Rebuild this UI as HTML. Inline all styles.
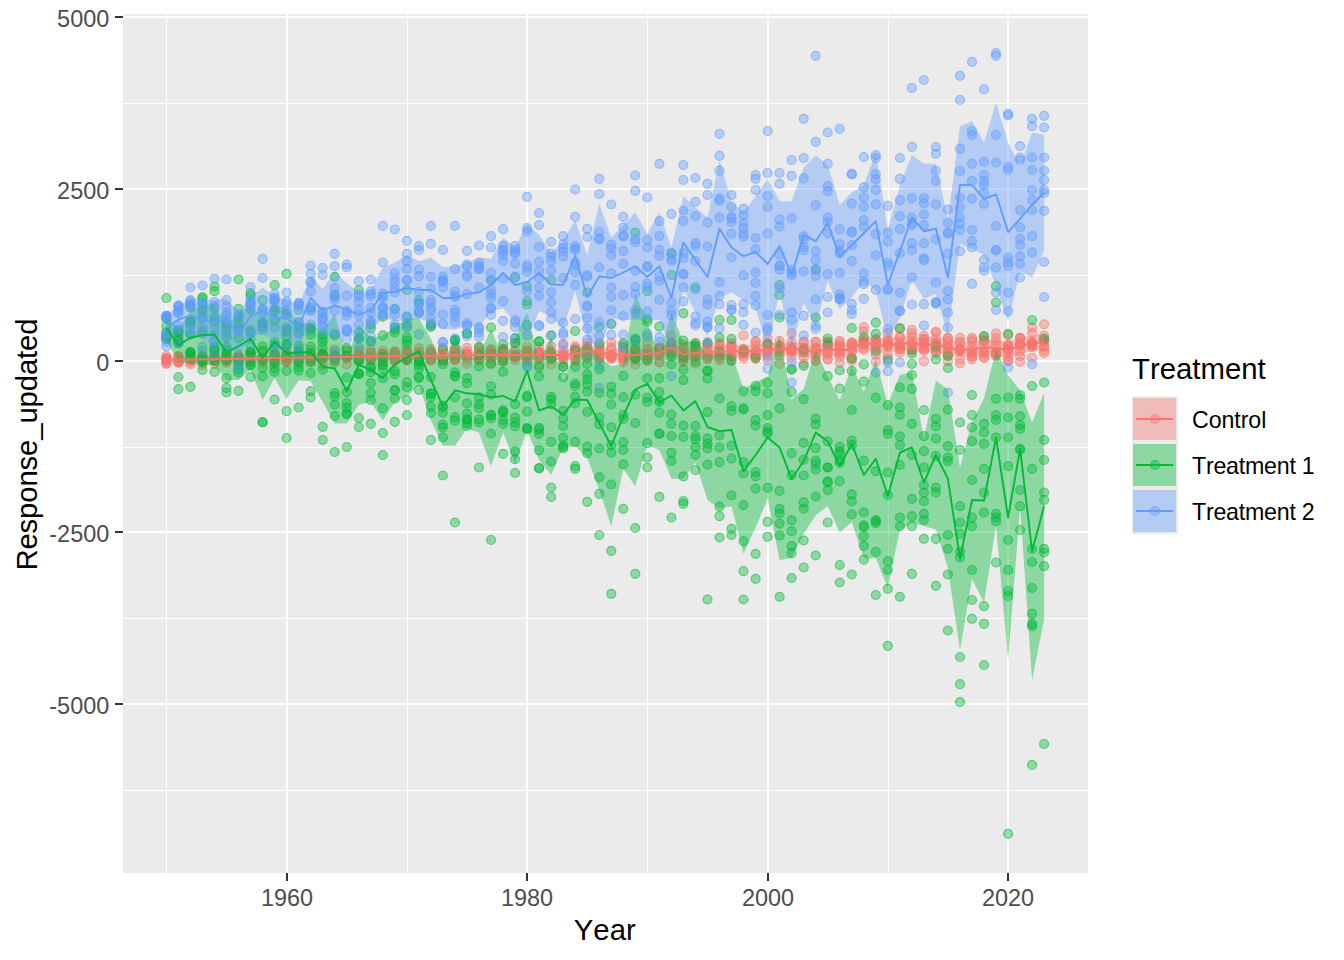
<!DOCTYPE html>
<html><head><meta charset="utf-8"><title>Response by Year and Treatment</title>
<style>html,body{margin:0;padding:0;background:#fff}text{font-kerning:none}body{width:1344px;height:960px;overflow:hidden}
.p circle{fill-opacity:0.40;stroke-opacity:0.55;stroke-width:1.2}</style></head>
<body><svg width="1344" height="960" viewBox="0 0 1344 960" style="display:block">
<rect width="1344" height="960" fill="#fff"/>
<rect x="123" y="14" width="965" height="859" fill="#EBEBEB"/>
<g stroke="#fff" stroke-width="1" shape-rendering="crispEdges">
<line x1="123" x2="1088" y1="103.5" y2="103.5"/>
<line x1="123" x2="1088" y1="275.5" y2="275.5"/>
<line x1="123" x2="1088" y1="447.5" y2="447.5"/>
<line x1="123" x2="1088" y1="618.5" y2="618.5"/>
<line x1="123" x2="1088" y1="790.5" y2="790.5"/>
<line x1="166.5" x2="166.5" y1="14" y2="873"/>
<line x1="407.5" x2="407.5" y1="14" y2="873"/>
<line x1="647.5" x2="647.5" y1="14" y2="873"/>
<line x1="888.5" x2="888.5" y1="14" y2="873"/>
</g>
<g stroke="#fff" stroke-width="2" shape-rendering="crispEdges">
<line x1="123" x2="1088" y1="17" y2="17"/>
<line x1="123" x2="1088" y1="189" y2="189"/>
<line x1="123" x2="1088" y1="361" y2="361"/>
<line x1="123" x2="1088" y1="532" y2="532"/>
<line x1="123" x2="1088" y1="704" y2="704"/>
<line x1="287.0" x2="287.0" y1="14" y2="873"/>
<line x1="527.0" x2="527.0" y1="14" y2="873"/>
<line x1="768.0" x2="768.0" y1="14" y2="873"/>
<line x1="1008.0" x2="1008.0" y1="14" y2="873"/>
</g>
<clipPath id="c"><rect x="123" y="14" width="965" height="859"/></clipPath>
<g clip-path="url(#c)">
<g class="p" fill="#F8766D" stroke="#F8766D"><circle cx="166.4" cy="358.5" r="4.5"/><circle cx="166.4" cy="361.4" r="4.5"/><circle cx="166.4" cy="358.6" r="4.5"/><circle cx="166.4" cy="358.2" r="4.5"/><circle cx="166.4" cy="355.9" r="4.5"/><circle cx="166.4" cy="358.6" r="4.5"/><circle cx="166.4" cy="363.8" r="4.5"/><circle cx="166.4" cy="361.1" r="4.5"/><circle cx="166.4" cy="363.5" r="4.5"/><circle cx="166.4" cy="360.4" r="4.5"/><circle cx="178.4" cy="361.8" r="4.5"/><circle cx="178.4" cy="361.3" r="4.5"/><circle cx="178.4" cy="356.6" r="4.5"/><circle cx="178.4" cy="362.9" r="4.5"/><circle cx="178.4" cy="362.1" r="4.5"/><circle cx="178.4" cy="362.1" r="4.5"/><circle cx="178.4" cy="356.6" r="4.5"/><circle cx="178.4" cy="356.4" r="4.5"/><circle cx="178.4" cy="358.6" r="4.5"/><circle cx="178.4" cy="359.6" r="4.5"/><circle cx="190.4" cy="359.4" r="4.5"/><circle cx="190.4" cy="358.1" r="4.5"/><circle cx="190.4" cy="360.1" r="4.5"/><circle cx="190.4" cy="355.9" r="4.5"/><circle cx="190.4" cy="359.4" r="4.5"/><circle cx="190.4" cy="359.7" r="4.5"/><circle cx="190.4" cy="355.9" r="4.5"/><circle cx="190.4" cy="364.5" r="4.5"/><circle cx="190.4" cy="360.3" r="4.5"/><circle cx="190.4" cy="362.6" r="4.5"/><circle cx="202.5" cy="357.5" r="4.5"/><circle cx="202.5" cy="357.1" r="4.5"/><circle cx="202.5" cy="358.6" r="4.5"/><circle cx="202.5" cy="359.6" r="4.5"/><circle cx="202.5" cy="362.6" r="4.5"/><circle cx="202.5" cy="361.0" r="4.5"/><circle cx="202.5" cy="358.2" r="4.5"/><circle cx="202.5" cy="356.2" r="4.5"/><circle cx="202.5" cy="357.9" r="4.5"/><circle cx="202.5" cy="365.0" r="4.5"/><circle cx="214.5" cy="357.8" r="4.5"/><circle cx="214.5" cy="360.9" r="4.5"/><circle cx="214.5" cy="361.4" r="4.5"/><circle cx="214.5" cy="355.9" r="4.5"/><circle cx="214.5" cy="360.3" r="4.5"/><circle cx="214.5" cy="364.0" r="4.5"/><circle cx="214.5" cy="354.3" r="4.5"/><circle cx="214.5" cy="359.3" r="4.5"/><circle cx="214.5" cy="359.9" r="4.5"/><circle cx="214.5" cy="357.8" r="4.5"/><circle cx="226.5" cy="359.9" r="4.5"/><circle cx="226.5" cy="358.1" r="4.5"/><circle cx="226.5" cy="353.8" r="4.5"/><circle cx="226.5" cy="360.9" r="4.5"/><circle cx="226.5" cy="360.4" r="4.5"/><circle cx="226.5" cy="361.2" r="4.5"/><circle cx="226.5" cy="362.8" r="4.5"/><circle cx="226.5" cy="359.4" r="4.5"/><circle cx="226.5" cy="358.7" r="4.5"/><circle cx="226.5" cy="354.3" r="4.5"/><circle cx="238.5" cy="362.1" r="4.5"/><circle cx="238.5" cy="358.5" r="4.5"/><circle cx="238.5" cy="358.9" r="4.5"/><circle cx="238.5" cy="356.5" r="4.5"/><circle cx="238.5" cy="357.4" r="4.5"/><circle cx="238.5" cy="358.7" r="4.5"/><circle cx="238.5" cy="364.1" r="4.5"/><circle cx="238.5" cy="354.3" r="4.5"/><circle cx="238.5" cy="356.0" r="4.5"/><circle cx="238.5" cy="361.0" r="4.5"/><circle cx="250.6" cy="362.2" r="4.5"/><circle cx="250.6" cy="360.2" r="4.5"/><circle cx="250.6" cy="354.6" r="4.5"/><circle cx="250.6" cy="353.2" r="4.5"/><circle cx="250.6" cy="359.7" r="4.5"/><circle cx="250.6" cy="357.2" r="4.5"/><circle cx="250.6" cy="356.4" r="4.5"/><circle cx="250.6" cy="361.1" r="4.5"/><circle cx="250.6" cy="361.4" r="4.5"/><circle cx="250.6" cy="359.3" r="4.5"/><circle cx="262.6" cy="357.3" r="4.5"/><circle cx="262.6" cy="358.0" r="4.5"/><circle cx="262.6" cy="362.3" r="4.5"/><circle cx="262.6" cy="358.7" r="4.5"/><circle cx="262.6" cy="358.3" r="4.5"/><circle cx="262.6" cy="358.5" r="4.5"/><circle cx="262.6" cy="350.6" r="4.5"/><circle cx="262.6" cy="361.2" r="4.5"/><circle cx="262.6" cy="360.0" r="4.5"/><circle cx="262.6" cy="358.4" r="4.5"/><circle cx="274.6" cy="353.5" r="4.5"/><circle cx="274.6" cy="357.0" r="4.5"/><circle cx="274.6" cy="360.9" r="4.5"/><circle cx="274.6" cy="353.9" r="4.5"/><circle cx="274.6" cy="358.2" r="4.5"/><circle cx="274.6" cy="361.3" r="4.5"/><circle cx="274.6" cy="355.2" r="4.5"/><circle cx="274.6" cy="362.9" r="4.5"/><circle cx="274.6" cy="360.1" r="4.5"/><circle cx="274.6" cy="358.3" r="4.5"/><circle cx="286.6" cy="358.3" r="4.5"/><circle cx="286.6" cy="359.8" r="4.5"/><circle cx="286.6" cy="357.4" r="4.5"/><circle cx="286.6" cy="362.1" r="4.5"/><circle cx="286.6" cy="353.9" r="4.5"/><circle cx="286.6" cy="355.0" r="4.5"/><circle cx="286.6" cy="361.6" r="4.5"/><circle cx="286.6" cy="357.0" r="4.5"/><circle cx="286.6" cy="352.9" r="4.5"/><circle cx="286.6" cy="361.2" r="4.5"/><circle cx="298.7" cy="362.4" r="4.5"/><circle cx="298.7" cy="356.5" r="4.5"/><circle cx="298.7" cy="353.6" r="4.5"/><circle cx="298.7" cy="357.5" r="4.5"/><circle cx="298.7" cy="357.4" r="4.5"/><circle cx="298.7" cy="357.0" r="4.5"/><circle cx="298.7" cy="362.2" r="4.5"/><circle cx="298.7" cy="354.7" r="4.5"/><circle cx="298.7" cy="361.8" r="4.5"/><circle cx="298.7" cy="354.0" r="4.5"/><circle cx="310.7" cy="350.5" r="4.5"/><circle cx="310.7" cy="359.5" r="4.5"/><circle cx="310.7" cy="362.7" r="4.5"/><circle cx="310.7" cy="361.0" r="4.5"/><circle cx="310.7" cy="357.7" r="4.5"/><circle cx="310.7" cy="356.4" r="4.5"/><circle cx="310.7" cy="356.5" r="4.5"/><circle cx="310.7" cy="359.2" r="4.5"/><circle cx="310.7" cy="354.4" r="4.5"/><circle cx="310.7" cy="357.3" r="4.5"/><circle cx="322.7" cy="358.0" r="4.5"/><circle cx="322.7" cy="355.2" r="4.5"/><circle cx="322.7" cy="358.9" r="4.5"/><circle cx="322.7" cy="358.0" r="4.5"/><circle cx="322.7" cy="365.0" r="4.5"/><circle cx="322.7" cy="356.8" r="4.5"/><circle cx="322.7" cy="353.1" r="4.5"/><circle cx="322.7" cy="353.4" r="4.5"/><circle cx="322.7" cy="355.1" r="4.5"/><circle cx="322.7" cy="359.7" r="4.5"/><circle cx="334.7" cy="356.3" r="4.5"/><circle cx="334.7" cy="358.5" r="4.5"/><circle cx="334.7" cy="363.0" r="4.5"/><circle cx="334.7" cy="349.5" r="4.5"/><circle cx="334.7" cy="353.9" r="4.5"/><circle cx="334.7" cy="358.1" r="4.5"/><circle cx="334.7" cy="358.6" r="4.5"/><circle cx="334.7" cy="358.1" r="4.5"/><circle cx="334.7" cy="356.0" r="4.5"/><circle cx="334.7" cy="359.4" r="4.5"/><circle cx="346.8" cy="358.3" r="4.5"/><circle cx="346.8" cy="355.9" r="4.5"/><circle cx="346.8" cy="364.5" r="4.5"/><circle cx="346.8" cy="358.5" r="4.5"/><circle cx="346.8" cy="355.8" r="4.5"/><circle cx="346.8" cy="357.1" r="4.5"/><circle cx="346.8" cy="356.8" r="4.5"/><circle cx="346.8" cy="357.3" r="4.5"/><circle cx="346.8" cy="349.5" r="4.5"/><circle cx="346.8" cy="356.0" r="4.5"/><circle cx="358.8" cy="360.0" r="4.5"/><circle cx="358.8" cy="352.1" r="4.5"/><circle cx="358.8" cy="356.1" r="4.5"/><circle cx="358.8" cy="359.8" r="4.5"/><circle cx="358.8" cy="359.4" r="4.5"/><circle cx="358.8" cy="361.7" r="4.5"/><circle cx="358.8" cy="350.1" r="4.5"/><circle cx="358.8" cy="355.0" r="4.5"/><circle cx="358.8" cy="355.1" r="4.5"/><circle cx="358.8" cy="358.6" r="4.5"/><circle cx="370.8" cy="360.2" r="4.5"/><circle cx="370.8" cy="349.2" r="4.5"/><circle cx="370.8" cy="360.2" r="4.5"/><circle cx="370.8" cy="352.8" r="4.5"/><circle cx="370.8" cy="359.0" r="4.5"/><circle cx="370.8" cy="352.7" r="4.5"/><circle cx="370.8" cy="357.5" r="4.5"/><circle cx="370.8" cy="360.5" r="4.5"/><circle cx="370.8" cy="356.6" r="4.5"/><circle cx="370.8" cy="357.6" r="4.5"/><circle cx="382.8" cy="357.3" r="4.5"/><circle cx="382.8" cy="355.0" r="4.5"/><circle cx="382.8" cy="354.2" r="4.5"/><circle cx="382.8" cy="359.9" r="4.5"/><circle cx="382.8" cy="358.2" r="4.5"/><circle cx="382.8" cy="353.5" r="4.5"/><circle cx="382.8" cy="364.2" r="4.5"/><circle cx="382.8" cy="350.5" r="4.5"/><circle cx="382.8" cy="357.8" r="4.5"/><circle cx="382.8" cy="353.6" r="4.5"/><circle cx="394.8" cy="358.5" r="4.5"/><circle cx="394.8" cy="360.9" r="4.5"/><circle cx="394.8" cy="358.9" r="4.5"/><circle cx="394.8" cy="360.6" r="4.5"/><circle cx="394.8" cy="351.7" r="4.5"/><circle cx="394.8" cy="351.7" r="4.5"/><circle cx="394.8" cy="360.5" r="4.5"/><circle cx="394.8" cy="354.0" r="4.5"/><circle cx="394.8" cy="353.7" r="4.5"/><circle cx="394.8" cy="351.9" r="4.5"/><circle cx="406.9" cy="359.1" r="4.5"/><circle cx="406.9" cy="357.2" r="4.5"/><circle cx="406.9" cy="359.9" r="4.5"/><circle cx="406.9" cy="351.0" r="4.5"/><circle cx="406.9" cy="354.4" r="4.5"/><circle cx="406.9" cy="350.2" r="4.5"/><circle cx="406.9" cy="357.3" r="4.5"/><circle cx="406.9" cy="360.3" r="4.5"/><circle cx="406.9" cy="351.1" r="4.5"/><circle cx="406.9" cy="360.2" r="4.5"/><circle cx="418.9" cy="359.3" r="4.5"/><circle cx="418.9" cy="354.9" r="4.5"/><circle cx="418.9" cy="348.1" r="4.5"/><circle cx="418.9" cy="360.9" r="4.5"/><circle cx="418.9" cy="355.2" r="4.5"/><circle cx="418.9" cy="353.3" r="4.5"/><circle cx="418.9" cy="357.1" r="4.5"/><circle cx="418.9" cy="357.1" r="4.5"/><circle cx="418.9" cy="361.2" r="4.5"/><circle cx="418.9" cy="351.7" r="4.5"/><circle cx="430.9" cy="358.6" r="4.5"/><circle cx="430.9" cy="360.4" r="4.5"/><circle cx="430.9" cy="360.2" r="4.5"/><circle cx="430.9" cy="352.0" r="4.5"/><circle cx="430.9" cy="349.1" r="4.5"/><circle cx="430.9" cy="358.0" r="4.5"/><circle cx="430.9" cy="353.5" r="4.5"/><circle cx="430.9" cy="353.5" r="4.5"/><circle cx="430.9" cy="360.1" r="4.5"/><circle cx="430.9" cy="351.6" r="4.5"/><circle cx="442.9" cy="347.7" r="4.5"/><circle cx="442.9" cy="354.8" r="4.5"/><circle cx="442.9" cy="349.3" r="4.5"/><circle cx="442.9" cy="359.2" r="4.5"/><circle cx="442.9" cy="357.4" r="4.5"/><circle cx="442.9" cy="353.9" r="4.5"/><circle cx="442.9" cy="356.2" r="4.5"/><circle cx="442.9" cy="359.3" r="4.5"/><circle cx="442.9" cy="356.5" r="4.5"/><circle cx="442.9" cy="361.1" r="4.5"/><circle cx="455.0" cy="355.0" r="4.5"/><circle cx="455.0" cy="358.5" r="4.5"/><circle cx="455.0" cy="360.0" r="4.5"/><circle cx="455.0" cy="360.4" r="4.5"/><circle cx="455.0" cy="353.1" r="4.5"/><circle cx="455.0" cy="358.0" r="4.5"/><circle cx="455.0" cy="349.2" r="4.5"/><circle cx="455.0" cy="351.8" r="4.5"/><circle cx="455.0" cy="348.9" r="4.5"/><circle cx="455.0" cy="358.6" r="4.5"/><circle cx="467.0" cy="347.8" r="4.5"/><circle cx="467.0" cy="354.3" r="4.5"/><circle cx="467.0" cy="353.3" r="4.5"/><circle cx="467.0" cy="354.2" r="4.5"/><circle cx="467.0" cy="351.2" r="4.5"/><circle cx="467.0" cy="355.6" r="4.5"/><circle cx="467.0" cy="363.9" r="4.5"/><circle cx="467.0" cy="354.6" r="4.5"/><circle cx="467.0" cy="357.2" r="4.5"/><circle cx="467.0" cy="359.7" r="4.5"/><circle cx="479.0" cy="354.3" r="4.5"/><circle cx="479.0" cy="349.4" r="4.5"/><circle cx="479.0" cy="352.7" r="4.5"/><circle cx="479.0" cy="360.3" r="4.5"/><circle cx="479.0" cy="347.6" r="4.5"/><circle cx="479.0" cy="352.5" r="4.5"/><circle cx="479.0" cy="360.0" r="4.5"/><circle cx="479.0" cy="359.0" r="4.5"/><circle cx="479.0" cy="355.3" r="4.5"/><circle cx="479.0" cy="359.0" r="4.5"/><circle cx="491.0" cy="359.7" r="4.5"/><circle cx="491.0" cy="351.7" r="4.5"/><circle cx="491.0" cy="349.4" r="4.5"/><circle cx="491.0" cy="354.9" r="4.5"/><circle cx="491.0" cy="364.2" r="4.5"/><circle cx="491.0" cy="355.3" r="4.5"/><circle cx="491.0" cy="353.3" r="4.5"/><circle cx="491.0" cy="354.1" r="4.5"/><circle cx="491.0" cy="349.6" r="4.5"/><circle cx="491.0" cy="358.0" r="4.5"/><circle cx="503.1" cy="353.4" r="4.5"/><circle cx="503.1" cy="359.9" r="4.5"/><circle cx="503.1" cy="348.5" r="4.5"/><circle cx="503.1" cy="359.8" r="4.5"/><circle cx="503.1" cy="355.7" r="4.5"/><circle cx="503.1" cy="350.2" r="4.5"/><circle cx="503.1" cy="361.4" r="4.5"/><circle cx="503.1" cy="357.2" r="4.5"/><circle cx="503.1" cy="349.0" r="4.5"/><circle cx="503.1" cy="354.7" r="4.5"/><circle cx="515.1" cy="355.1" r="4.5"/><circle cx="515.1" cy="351.3" r="4.5"/><circle cx="515.1" cy="357.6" r="4.5"/><circle cx="515.1" cy="357.4" r="4.5"/><circle cx="515.1" cy="357.0" r="4.5"/><circle cx="515.1" cy="355.3" r="4.5"/><circle cx="515.1" cy="360.4" r="4.5"/><circle cx="515.1" cy="357.0" r="4.5"/><circle cx="515.1" cy="355.9" r="4.5"/><circle cx="515.1" cy="343.1" r="4.5"/><circle cx="527.1" cy="356.7" r="4.5"/><circle cx="527.1" cy="358.3" r="4.5"/><circle cx="527.1" cy="352.3" r="4.5"/><circle cx="527.1" cy="351.7" r="4.5"/><circle cx="527.1" cy="360.6" r="4.5"/><circle cx="527.1" cy="346.9" r="4.5"/><circle cx="527.1" cy="355.2" r="4.5"/><circle cx="527.1" cy="362.4" r="4.5"/><circle cx="527.1" cy="350.0" r="4.5"/><circle cx="527.1" cy="356.0" r="4.5"/><circle cx="539.1" cy="365.0" r="4.5"/><circle cx="539.1" cy="352.2" r="4.5"/><circle cx="539.1" cy="356.6" r="4.5"/><circle cx="539.1" cy="358.8" r="4.5"/><circle cx="539.1" cy="347.2" r="4.5"/><circle cx="539.1" cy="352.4" r="4.5"/><circle cx="539.1" cy="354.9" r="4.5"/><circle cx="539.1" cy="358.3" r="4.5"/><circle cx="539.1" cy="352.8" r="4.5"/><circle cx="539.1" cy="351.8" r="4.5"/><circle cx="551.2" cy="351.6" r="4.5"/><circle cx="551.2" cy="353.8" r="4.5"/><circle cx="551.2" cy="358.1" r="4.5"/><circle cx="551.2" cy="355.4" r="4.5"/><circle cx="551.2" cy="352.1" r="4.5"/><circle cx="551.2" cy="352.2" r="4.5"/><circle cx="551.2" cy="364.3" r="4.5"/><circle cx="551.2" cy="359.0" r="4.5"/><circle cx="551.2" cy="357.3" r="4.5"/><circle cx="551.2" cy="346.1" r="4.5"/><circle cx="563.2" cy="357.0" r="4.5"/><circle cx="563.2" cy="356.2" r="4.5"/><circle cx="563.2" cy="362.4" r="4.5"/><circle cx="563.2" cy="356.0" r="4.5"/><circle cx="563.2" cy="353.4" r="4.5"/><circle cx="563.2" cy="356.5" r="4.5"/><circle cx="563.2" cy="343.8" r="4.5"/><circle cx="563.2" cy="359.1" r="4.5"/><circle cx="563.2" cy="355.4" r="4.5"/><circle cx="563.2" cy="350.2" r="4.5"/><circle cx="575.2" cy="358.0" r="4.5"/><circle cx="575.2" cy="360.0" r="4.5"/><circle cx="575.2" cy="346.4" r="4.5"/><circle cx="575.2" cy="349.5" r="4.5"/><circle cx="575.2" cy="353.6" r="4.5"/><circle cx="575.2" cy="353.1" r="4.5"/><circle cx="575.2" cy="350.6" r="4.5"/><circle cx="575.2" cy="348.2" r="4.5"/><circle cx="575.2" cy="361.4" r="4.5"/><circle cx="575.2" cy="356.8" r="4.5"/><circle cx="587.2" cy="346.7" r="4.5"/><circle cx="587.2" cy="346.2" r="4.5"/><circle cx="587.2" cy="357.7" r="4.5"/><circle cx="587.2" cy="355.0" r="4.5"/><circle cx="587.2" cy="358.2" r="4.5"/><circle cx="587.2" cy="354.4" r="4.5"/><circle cx="587.2" cy="348.0" r="4.5"/><circle cx="587.2" cy="352.3" r="4.5"/><circle cx="587.2" cy="343.1" r="4.5"/><circle cx="587.2" cy="348.4" r="4.5"/><circle cx="599.3" cy="350.4" r="4.5"/><circle cx="599.3" cy="356.9" r="4.5"/><circle cx="599.3" cy="342.9" r="4.5"/><circle cx="599.3" cy="349.7" r="4.5"/><circle cx="599.3" cy="356.1" r="4.5"/><circle cx="599.3" cy="355.2" r="4.5"/><circle cx="599.3" cy="358.1" r="4.5"/><circle cx="599.3" cy="353.4" r="4.5"/><circle cx="599.3" cy="347.4" r="4.5"/><circle cx="599.3" cy="359.8" r="4.5"/><circle cx="611.3" cy="357.2" r="4.5"/><circle cx="611.3" cy="347.4" r="4.5"/><circle cx="611.3" cy="349.6" r="4.5"/><circle cx="611.3" cy="356.6" r="4.5"/><circle cx="611.3" cy="355.4" r="4.5"/><circle cx="611.3" cy="358.4" r="4.5"/><circle cx="611.3" cy="356.6" r="4.5"/><circle cx="611.3" cy="358.6" r="4.5"/><circle cx="611.3" cy="355.1" r="4.5"/><circle cx="611.3" cy="342.5" r="4.5"/><circle cx="623.3" cy="358.5" r="4.5"/><circle cx="623.3" cy="362.3" r="4.5"/><circle cx="623.3" cy="358.6" r="4.5"/><circle cx="623.3" cy="354.9" r="4.5"/><circle cx="623.3" cy="358.6" r="4.5"/><circle cx="623.3" cy="350.2" r="4.5"/><circle cx="623.3" cy="344.7" r="4.5"/><circle cx="623.3" cy="356.3" r="4.5"/><circle cx="623.3" cy="350.5" r="4.5"/><circle cx="623.3" cy="360.4" r="4.5"/><circle cx="635.3" cy="352.0" r="4.5"/><circle cx="635.3" cy="344.9" r="4.5"/><circle cx="635.3" cy="352.3" r="4.5"/><circle cx="635.3" cy="364.4" r="4.5"/><circle cx="635.3" cy="355.3" r="4.5"/><circle cx="635.3" cy="350.7" r="4.5"/><circle cx="635.3" cy="353.5" r="4.5"/><circle cx="635.3" cy="359.5" r="4.5"/><circle cx="635.3" cy="359.4" r="4.5"/><circle cx="635.3" cy="357.9" r="4.5"/><circle cx="647.3" cy="359.9" r="4.5"/><circle cx="647.3" cy="354.5" r="4.5"/><circle cx="647.3" cy="349.5" r="4.5"/><circle cx="647.3" cy="353.8" r="4.5"/><circle cx="647.3" cy="361.1" r="4.5"/><circle cx="647.3" cy="356.4" r="4.5"/><circle cx="647.3" cy="356.7" r="4.5"/><circle cx="647.3" cy="342.2" r="4.5"/><circle cx="647.3" cy="348.7" r="4.5"/><circle cx="647.3" cy="354.7" r="4.5"/><circle cx="659.4" cy="347.0" r="4.5"/><circle cx="659.4" cy="354.3" r="4.5"/><circle cx="659.4" cy="351.7" r="4.5"/><circle cx="659.4" cy="353.4" r="4.5"/><circle cx="659.4" cy="347.4" r="4.5"/><circle cx="659.4" cy="362.1" r="4.5"/><circle cx="659.4" cy="355.2" r="4.5"/><circle cx="659.4" cy="347.4" r="4.5"/><circle cx="659.4" cy="349.1" r="4.5"/><circle cx="659.4" cy="362.4" r="4.5"/><circle cx="671.4" cy="342.4" r="4.5"/><circle cx="671.4" cy="352.3" r="4.5"/><circle cx="671.4" cy="353.2" r="4.5"/><circle cx="671.4" cy="345.2" r="4.5"/><circle cx="671.4" cy="335.6" r="4.5"/><circle cx="671.4" cy="346.7" r="4.5"/><circle cx="671.4" cy="348.1" r="4.5"/><circle cx="671.4" cy="354.4" r="4.5"/><circle cx="671.4" cy="351.6" r="4.5"/><circle cx="671.4" cy="345.4" r="4.5"/><circle cx="683.4" cy="361.9" r="4.5"/><circle cx="683.4" cy="359.5" r="4.5"/><circle cx="683.4" cy="356.9" r="4.5"/><circle cx="683.4" cy="355.7" r="4.5"/><circle cx="683.4" cy="353.4" r="4.5"/><circle cx="683.4" cy="360.6" r="4.5"/><circle cx="683.4" cy="347.1" r="4.5"/><circle cx="683.4" cy="350.4" r="4.5"/><circle cx="683.4" cy="355.3" r="4.5"/><circle cx="683.4" cy="344.0" r="4.5"/><circle cx="695.4" cy="351.4" r="4.5"/><circle cx="695.4" cy="342.9" r="4.5"/><circle cx="695.4" cy="350.0" r="4.5"/><circle cx="695.4" cy="356.8" r="4.5"/><circle cx="695.4" cy="356.8" r="4.5"/><circle cx="695.4" cy="353.4" r="4.5"/><circle cx="695.4" cy="352.5" r="4.5"/><circle cx="695.4" cy="346.1" r="4.5"/><circle cx="695.4" cy="363.6" r="4.5"/><circle cx="695.4" cy="356.5" r="4.5"/><circle cx="707.5" cy="359.1" r="4.5"/><circle cx="707.5" cy="349.2" r="4.5"/><circle cx="707.5" cy="352.7" r="4.5"/><circle cx="707.5" cy="344.5" r="4.5"/><circle cx="707.5" cy="357.5" r="4.5"/><circle cx="707.5" cy="358.3" r="4.5"/><circle cx="707.5" cy="344.1" r="4.5"/><circle cx="707.5" cy="353.3" r="4.5"/><circle cx="707.5" cy="356.7" r="4.5"/><circle cx="707.5" cy="344.7" r="4.5"/><circle cx="719.5" cy="342.5" r="4.5"/><circle cx="719.5" cy="346.6" r="4.5"/><circle cx="719.5" cy="348.9" r="4.5"/><circle cx="719.5" cy="344.7" r="4.5"/><circle cx="719.5" cy="352.5" r="4.5"/><circle cx="719.5" cy="353.7" r="4.5"/><circle cx="719.5" cy="355.8" r="4.5"/><circle cx="719.5" cy="356.1" r="4.5"/><circle cx="719.5" cy="360.5" r="4.5"/><circle cx="719.5" cy="358.7" r="4.5"/><circle cx="731.5" cy="345.4" r="4.5"/><circle cx="731.5" cy="352.4" r="4.5"/><circle cx="731.5" cy="347.6" r="4.5"/><circle cx="731.5" cy="347.4" r="4.5"/><circle cx="731.5" cy="356.1" r="4.5"/><circle cx="731.5" cy="356.9" r="4.5"/><circle cx="731.5" cy="361.1" r="4.5"/><circle cx="731.5" cy="343.0" r="4.5"/><circle cx="731.5" cy="346.0" r="4.5"/><circle cx="731.5" cy="356.6" r="4.5"/><circle cx="743.5" cy="352.6" r="4.5"/><circle cx="743.5" cy="351.8" r="4.5"/><circle cx="743.5" cy="353.5" r="4.5"/><circle cx="743.5" cy="348.8" r="4.5"/><circle cx="743.5" cy="358.6" r="4.5"/><circle cx="743.5" cy="356.3" r="4.5"/><circle cx="743.5" cy="353.3" r="4.5"/><circle cx="743.5" cy="349.4" r="4.5"/><circle cx="743.5" cy="352.7" r="4.5"/><circle cx="743.5" cy="335.5" r="4.5"/><circle cx="755.6" cy="345.5" r="4.5"/><circle cx="755.6" cy="354.1" r="4.5"/><circle cx="755.6" cy="341.1" r="4.5"/><circle cx="755.6" cy="355.4" r="4.5"/><circle cx="755.6" cy="355.0" r="4.5"/><circle cx="755.6" cy="342.1" r="4.5"/><circle cx="755.6" cy="351.6" r="4.5"/><circle cx="755.6" cy="351.1" r="4.5"/><circle cx="755.6" cy="357.6" r="4.5"/><circle cx="755.6" cy="358.9" r="4.5"/><circle cx="767.6" cy="352.0" r="4.5"/><circle cx="767.6" cy="343.5" r="4.5"/><circle cx="767.6" cy="350.9" r="4.5"/><circle cx="767.6" cy="351.7" r="4.5"/><circle cx="767.6" cy="360.1" r="4.5"/><circle cx="767.6" cy="355.5" r="4.5"/><circle cx="767.6" cy="344.8" r="4.5"/><circle cx="767.6" cy="338.2" r="4.5"/><circle cx="767.6" cy="348.5" r="4.5"/><circle cx="767.6" cy="344.7" r="4.5"/><circle cx="779.6" cy="340.9" r="4.5"/><circle cx="779.6" cy="347.6" r="4.5"/><circle cx="779.6" cy="345.0" r="4.5"/><circle cx="779.6" cy="349.1" r="4.5"/><circle cx="779.6" cy="351.9" r="4.5"/><circle cx="779.6" cy="345.6" r="4.5"/><circle cx="779.6" cy="363.9" r="4.5"/><circle cx="779.6" cy="346.2" r="4.5"/><circle cx="779.6" cy="355.7" r="4.5"/><circle cx="779.6" cy="349.2" r="4.5"/><circle cx="791.6" cy="351.4" r="4.5"/><circle cx="791.6" cy="333.4" r="4.5"/><circle cx="791.6" cy="341.8" r="4.5"/><circle cx="791.6" cy="347.0" r="4.5"/><circle cx="791.6" cy="348.8" r="4.5"/><circle cx="791.6" cy="357.7" r="4.5"/><circle cx="791.6" cy="347.3" r="4.5"/><circle cx="791.6" cy="352.3" r="4.5"/><circle cx="791.6" cy="349.6" r="4.5"/><circle cx="791.6" cy="350.6" r="4.5"/><circle cx="803.7" cy="352.6" r="4.5"/><circle cx="803.7" cy="348.0" r="4.5"/><circle cx="803.7" cy="352.6" r="4.5"/><circle cx="803.7" cy="341.6" r="4.5"/><circle cx="803.7" cy="357.2" r="4.5"/><circle cx="803.7" cy="342.0" r="4.5"/><circle cx="803.7" cy="350.8" r="4.5"/><circle cx="803.7" cy="363.7" r="4.5"/><circle cx="803.7" cy="347.5" r="4.5"/><circle cx="803.7" cy="349.2" r="4.5"/><circle cx="815.7" cy="356.5" r="4.5"/><circle cx="815.7" cy="348.0" r="4.5"/><circle cx="815.7" cy="341.8" r="4.5"/><circle cx="815.7" cy="349.7" r="4.5"/><circle cx="815.7" cy="352.2" r="4.5"/><circle cx="815.7" cy="353.1" r="4.5"/><circle cx="815.7" cy="342.0" r="4.5"/><circle cx="815.7" cy="360.9" r="4.5"/><circle cx="815.7" cy="360.3" r="4.5"/><circle cx="815.7" cy="347.9" r="4.5"/><circle cx="827.7" cy="350.0" r="4.5"/><circle cx="827.7" cy="344.1" r="4.5"/><circle cx="827.7" cy="359.7" r="4.5"/><circle cx="827.7" cy="341.8" r="4.5"/><circle cx="827.7" cy="353.4" r="4.5"/><circle cx="827.7" cy="343.7" r="4.5"/><circle cx="827.7" cy="341.8" r="4.5"/><circle cx="827.7" cy="353.8" r="4.5"/><circle cx="827.7" cy="359.0" r="4.5"/><circle cx="827.7" cy="347.6" r="4.5"/><circle cx="839.7" cy="340.9" r="4.5"/><circle cx="839.7" cy="351.9" r="4.5"/><circle cx="839.7" cy="345.5" r="4.5"/><circle cx="839.7" cy="348.2" r="4.5"/><circle cx="839.7" cy="357.1" r="4.5"/><circle cx="839.7" cy="354.2" r="4.5"/><circle cx="839.7" cy="342.0" r="4.5"/><circle cx="839.7" cy="362.7" r="4.5"/><circle cx="839.7" cy="345.9" r="4.5"/><circle cx="839.7" cy="351.7" r="4.5"/><circle cx="851.8" cy="348.1" r="4.5"/><circle cx="851.8" cy="351.3" r="4.5"/><circle cx="851.8" cy="342.3" r="4.5"/><circle cx="851.8" cy="360.9" r="4.5"/><circle cx="851.8" cy="358.7" r="4.5"/><circle cx="851.8" cy="345.1" r="4.5"/><circle cx="851.8" cy="343.6" r="4.5"/><circle cx="851.8" cy="343.0" r="4.5"/><circle cx="851.8" cy="357.7" r="4.5"/><circle cx="851.8" cy="349.1" r="4.5"/><circle cx="863.8" cy="343.5" r="4.5"/><circle cx="863.8" cy="340.5" r="4.5"/><circle cx="863.8" cy="342.8" r="4.5"/><circle cx="863.8" cy="331.3" r="4.5"/><circle cx="863.8" cy="344.6" r="4.5"/><circle cx="863.8" cy="327.1" r="4.5"/><circle cx="863.8" cy="343.4" r="4.5"/><circle cx="863.8" cy="348.0" r="4.5"/><circle cx="863.8" cy="349.9" r="4.5"/><circle cx="863.8" cy="341.5" r="4.5"/><circle cx="875.8" cy="339.5" r="4.5"/><circle cx="875.8" cy="349.0" r="4.5"/><circle cx="875.8" cy="343.2" r="4.5"/><circle cx="875.8" cy="361.6" r="4.5"/><circle cx="875.8" cy="354.5" r="4.5"/><circle cx="875.8" cy="346.5" r="4.5"/><circle cx="875.8" cy="343.3" r="4.5"/><circle cx="875.8" cy="341.3" r="4.5"/><circle cx="875.8" cy="339.2" r="4.5"/><circle cx="875.8" cy="344.4" r="4.5"/><circle cx="887.8" cy="344.8" r="4.5"/><circle cx="887.8" cy="346.0" r="4.5"/><circle cx="887.8" cy="346.3" r="4.5"/><circle cx="887.8" cy="354.5" r="4.5"/><circle cx="887.8" cy="339.4" r="4.5"/><circle cx="887.8" cy="343.3" r="4.5"/><circle cx="887.8" cy="358.2" r="4.5"/><circle cx="887.8" cy="333.2" r="4.5"/><circle cx="887.8" cy="340.4" r="4.5"/><circle cx="887.8" cy="344.1" r="4.5"/><circle cx="899.9" cy="347.2" r="4.5"/><circle cx="899.9" cy="349.5" r="4.5"/><circle cx="899.9" cy="343.7" r="4.5"/><circle cx="899.9" cy="349.1" r="4.5"/><circle cx="899.9" cy="346.3" r="4.5"/><circle cx="899.9" cy="352.7" r="4.5"/><circle cx="899.9" cy="328.8" r="4.5"/><circle cx="899.9" cy="337.9" r="4.5"/><circle cx="899.9" cy="345.8" r="4.5"/><circle cx="899.9" cy="336.5" r="4.5"/><circle cx="911.9" cy="333.3" r="4.5"/><circle cx="911.9" cy="349.5" r="4.5"/><circle cx="911.9" cy="337.1" r="4.5"/><circle cx="911.9" cy="349.5" r="4.5"/><circle cx="911.9" cy="350.6" r="4.5"/><circle cx="911.9" cy="346.4" r="4.5"/><circle cx="911.9" cy="348.3" r="4.5"/><circle cx="911.9" cy="342.4" r="4.5"/><circle cx="911.9" cy="329.8" r="4.5"/><circle cx="911.9" cy="343.1" r="4.5"/><circle cx="923.9" cy="348.2" r="4.5"/><circle cx="923.9" cy="339.1" r="4.5"/><circle cx="923.9" cy="343.1" r="4.5"/><circle cx="923.9" cy="350.9" r="4.5"/><circle cx="923.9" cy="335.9" r="4.5"/><circle cx="923.9" cy="349.9" r="4.5"/><circle cx="923.9" cy="361.2" r="4.5"/><circle cx="923.9" cy="338.9" r="4.5"/><circle cx="923.9" cy="345.3" r="4.5"/><circle cx="923.9" cy="342.6" r="4.5"/><circle cx="935.9" cy="352.9" r="4.5"/><circle cx="935.9" cy="345.2" r="4.5"/><circle cx="935.9" cy="348.9" r="4.5"/><circle cx="935.9" cy="338.9" r="4.5"/><circle cx="935.9" cy="343.1" r="4.5"/><circle cx="935.9" cy="343.2" r="4.5"/><circle cx="935.9" cy="332.0" r="4.5"/><circle cx="935.9" cy="352.3" r="4.5"/><circle cx="935.9" cy="348.9" r="4.5"/><circle cx="935.9" cy="332.2" r="4.5"/><circle cx="947.9" cy="355.2" r="4.5"/><circle cx="947.9" cy="348.3" r="4.5"/><circle cx="947.9" cy="352.9" r="4.5"/><circle cx="947.9" cy="352.3" r="4.5"/><circle cx="947.9" cy="337.6" r="4.5"/><circle cx="947.9" cy="347.7" r="4.5"/><circle cx="947.9" cy="361.1" r="4.5"/><circle cx="947.9" cy="344.9" r="4.5"/><circle cx="947.9" cy="341.3" r="4.5"/><circle cx="947.9" cy="338.7" r="4.5"/><circle cx="960.0" cy="337.9" r="4.5"/><circle cx="960.0" cy="349.3" r="4.5"/><circle cx="960.0" cy="359.3" r="4.5"/><circle cx="960.0" cy="350.0" r="4.5"/><circle cx="960.0" cy="348.7" r="4.5"/><circle cx="960.0" cy="363.3" r="4.5"/><circle cx="960.0" cy="343.0" r="4.5"/><circle cx="960.0" cy="341.9" r="4.5"/><circle cx="960.0" cy="350.7" r="4.5"/><circle cx="960.0" cy="350.9" r="4.5"/><circle cx="972.0" cy="341.3" r="4.5"/><circle cx="972.0" cy="339.5" r="4.5"/><circle cx="972.0" cy="357.2" r="4.5"/><circle cx="972.0" cy="356.7" r="4.5"/><circle cx="972.0" cy="337.8" r="4.5"/><circle cx="972.0" cy="351.2" r="4.5"/><circle cx="972.0" cy="347.1" r="4.5"/><circle cx="972.0" cy="359.3" r="4.5"/><circle cx="972.0" cy="352.3" r="4.5"/><circle cx="972.0" cy="352.6" r="4.5"/><circle cx="984.0" cy="340.6" r="4.5"/><circle cx="984.0" cy="353.9" r="4.5"/><circle cx="984.0" cy="357.0" r="4.5"/><circle cx="984.0" cy="340.5" r="4.5"/><circle cx="984.0" cy="351.9" r="4.5"/><circle cx="984.0" cy="336.8" r="4.5"/><circle cx="984.0" cy="344.6" r="4.5"/><circle cx="984.0" cy="351.0" r="4.5"/><circle cx="984.0" cy="358.2" r="4.5"/><circle cx="984.0" cy="340.4" r="4.5"/><circle cx="996.0" cy="351.6" r="4.5"/><circle cx="996.0" cy="354.1" r="4.5"/><circle cx="996.0" cy="338.0" r="4.5"/><circle cx="996.0" cy="352.4" r="4.5"/><circle cx="996.0" cy="345.8" r="4.5"/><circle cx="996.0" cy="355.8" r="4.5"/><circle cx="996.0" cy="341.5" r="4.5"/><circle cx="996.0" cy="333.4" r="4.5"/><circle cx="996.0" cy="352.6" r="4.5"/><circle cx="996.0" cy="354.8" r="4.5"/><circle cx="1008.1" cy="346.0" r="4.5"/><circle cx="1008.1" cy="361.1" r="4.5"/><circle cx="1008.1" cy="348.9" r="4.5"/><circle cx="1008.1" cy="345.4" r="4.5"/><circle cx="1008.1" cy="356.7" r="4.5"/><circle cx="1008.1" cy="335.2" r="4.5"/><circle cx="1008.1" cy="344.6" r="4.5"/><circle cx="1008.1" cy="351.5" r="4.5"/><circle cx="1008.1" cy="360.7" r="4.5"/><circle cx="1008.1" cy="350.0" r="4.5"/><circle cx="1020.1" cy="345.6" r="4.5"/><circle cx="1020.1" cy="338.1" r="4.5"/><circle cx="1020.1" cy="345.6" r="4.5"/><circle cx="1020.1" cy="356.3" r="4.5"/><circle cx="1020.1" cy="337.8" r="4.5"/><circle cx="1020.1" cy="361.8" r="4.5"/><circle cx="1020.1" cy="338.2" r="4.5"/><circle cx="1020.1" cy="343.3" r="4.5"/><circle cx="1020.1" cy="344.6" r="4.5"/><circle cx="1020.1" cy="351.2" r="4.5"/><circle cx="1032.1" cy="333.1" r="4.5"/><circle cx="1032.1" cy="327.6" r="4.5"/><circle cx="1032.1" cy="344.9" r="4.5"/><circle cx="1032.1" cy="346.1" r="4.5"/><circle cx="1032.1" cy="345.0" r="4.5"/><circle cx="1032.1" cy="357.9" r="4.5"/><circle cx="1032.1" cy="342.3" r="4.5"/><circle cx="1032.1" cy="342.7" r="4.5"/><circle cx="1032.1" cy="347.0" r="4.5"/><circle cx="1032.1" cy="343.4" r="4.5"/><circle cx="1044.1" cy="350.7" r="4.5"/><circle cx="1044.1" cy="335.7" r="4.5"/><circle cx="1044.1" cy="340.1" r="4.5"/><circle cx="1044.1" cy="324.3" r="4.5"/><circle cx="1044.1" cy="346.3" r="4.5"/><circle cx="1044.1" cy="340.1" r="4.5"/><circle cx="1044.1" cy="346.8" r="4.5"/><circle cx="1044.1" cy="353.2" r="4.5"/><circle cx="1044.1" cy="342.0" r="4.5"/><circle cx="1044.1" cy="340.8" r="4.5"/></g>
<g class="p" fill="#00BA38" stroke="#00BA38"><circle cx="166.4" cy="317.8" r="4.5"/><circle cx="166.4" cy="335.4" r="4.5"/><circle cx="166.4" cy="339.2" r="4.5"/><circle cx="166.4" cy="332.4" r="4.5"/><circle cx="166.4" cy="318.7" r="4.5"/><circle cx="166.4" cy="337.8" r="4.5"/><circle cx="166.4" cy="337.9" r="4.5"/><circle cx="166.4" cy="335.7" r="4.5"/><circle cx="166.4" cy="326.2" r="4.5"/><circle cx="166.4" cy="298.0" r="4.5"/><circle cx="178.4" cy="330.1" r="4.5"/><circle cx="178.4" cy="332.6" r="4.5"/><circle cx="178.4" cy="331.5" r="4.5"/><circle cx="178.4" cy="335.9" r="4.5"/><circle cx="178.4" cy="341.0" r="4.5"/><circle cx="178.4" cy="331.8" r="4.5"/><circle cx="178.4" cy="343.3" r="4.5"/><circle cx="178.4" cy="340.6" r="4.5"/><circle cx="178.4" cy="377.0" r="4.5"/><circle cx="178.4" cy="389.2" r="4.5"/><circle cx="190.4" cy="351.9" r="4.5"/><circle cx="190.4" cy="356.0" r="4.5"/><circle cx="190.4" cy="307.5" r="4.5"/><circle cx="190.4" cy="353.4" r="4.5"/><circle cx="190.4" cy="352.6" r="4.5"/><circle cx="190.4" cy="323.1" r="4.5"/><circle cx="190.4" cy="304.9" r="4.5"/><circle cx="190.4" cy="319.8" r="4.5"/><circle cx="190.4" cy="322.0" r="4.5"/><circle cx="190.4" cy="386.8" r="4.5"/><circle cx="202.5" cy="297.0" r="4.5"/><circle cx="202.5" cy="359.7" r="4.5"/><circle cx="202.5" cy="362.4" r="4.5"/><circle cx="202.5" cy="356.5" r="4.5"/><circle cx="202.5" cy="360.2" r="4.5"/><circle cx="202.5" cy="332.9" r="4.5"/><circle cx="202.5" cy="309.2" r="4.5"/><circle cx="202.5" cy="303.5" r="4.5"/><circle cx="202.5" cy="298.8" r="4.5"/><circle cx="202.5" cy="370.0" r="4.5"/><circle cx="214.5" cy="358.0" r="4.5"/><circle cx="214.5" cy="321.8" r="4.5"/><circle cx="214.5" cy="349.9" r="4.5"/><circle cx="214.5" cy="360.7" r="4.5"/><circle cx="214.5" cy="347.9" r="4.5"/><circle cx="214.5" cy="350.2" r="4.5"/><circle cx="214.5" cy="291.2" r="4.5"/><circle cx="214.5" cy="286.5" r="4.5"/><circle cx="214.5" cy="308.1" r="4.5"/><circle cx="214.5" cy="371.8" r="4.5"/><circle cx="226.5" cy="354.7" r="4.5"/><circle cx="226.5" cy="378.4" r="4.5"/><circle cx="226.5" cy="315.5" r="4.5"/><circle cx="226.5" cy="350.8" r="4.5"/><circle cx="226.5" cy="324.0" r="4.5"/><circle cx="226.5" cy="326.8" r="4.5"/><circle cx="226.5" cy="337.4" r="4.5"/><circle cx="226.5" cy="359.7" r="4.5"/><circle cx="226.5" cy="388.0" r="4.5"/><circle cx="226.5" cy="392.5" r="4.5"/><circle cx="238.5" cy="358.2" r="4.5"/><circle cx="238.5" cy="360.4" r="4.5"/><circle cx="238.5" cy="369.2" r="4.5"/><circle cx="238.5" cy="338.2" r="4.5"/><circle cx="238.5" cy="372.7" r="4.5"/><circle cx="238.5" cy="361.7" r="4.5"/><circle cx="238.5" cy="323.1" r="4.5"/><circle cx="238.5" cy="390.8" r="4.5"/><circle cx="238.5" cy="279.5" r="4.5"/><circle cx="238.5" cy="308.8" r="4.5"/><circle cx="250.6" cy="330.7" r="4.5"/><circle cx="250.6" cy="352.1" r="4.5"/><circle cx="250.6" cy="353.2" r="4.5"/><circle cx="250.6" cy="364.5" r="4.5"/><circle cx="250.6" cy="295.7" r="4.5"/><circle cx="250.6" cy="303.7" r="4.5"/><circle cx="250.6" cy="351.9" r="4.5"/><circle cx="250.6" cy="293.2" r="4.5"/><circle cx="250.6" cy="365.6" r="4.5"/><circle cx="250.6" cy="377.0" r="4.5"/><circle cx="262.6" cy="309.9" r="4.5"/><circle cx="262.6" cy="367.9" r="4.5"/><circle cx="262.6" cy="346.5" r="4.5"/><circle cx="262.6" cy="300.2" r="4.5"/><circle cx="262.6" cy="376.3" r="4.5"/><circle cx="262.6" cy="359.0" r="4.5"/><circle cx="262.6" cy="351.5" r="4.5"/><circle cx="262.6" cy="323.2" r="4.5"/><circle cx="262.6" cy="422.0" r="4.5"/><circle cx="262.6" cy="422.5" r="4.5"/><circle cx="274.6" cy="320.0" r="4.5"/><circle cx="274.6" cy="363.2" r="4.5"/><circle cx="274.6" cy="371.9" r="4.5"/><circle cx="274.6" cy="300.7" r="4.5"/><circle cx="274.6" cy="342.4" r="4.5"/><circle cx="274.6" cy="354.9" r="4.5"/><circle cx="274.6" cy="368.0" r="4.5"/><circle cx="274.6" cy="310.4" r="4.5"/><circle cx="274.6" cy="399.5" r="4.5"/><circle cx="274.6" cy="285.0" r="4.5"/><circle cx="286.6" cy="336.9" r="4.5"/><circle cx="286.6" cy="327.9" r="4.5"/><circle cx="286.6" cy="370.9" r="4.5"/><circle cx="286.6" cy="344.6" r="4.5"/><circle cx="286.6" cy="344.3" r="4.5"/><circle cx="286.6" cy="332.0" r="4.5"/><circle cx="286.6" cy="355.4" r="4.5"/><circle cx="286.6" cy="411.2" r="4.5"/><circle cx="286.6" cy="438.0" r="4.5"/><circle cx="286.6" cy="273.8" r="4.5"/><circle cx="298.7" cy="358.6" r="4.5"/><circle cx="298.7" cy="345.6" r="4.5"/><circle cx="298.7" cy="370.7" r="4.5"/><circle cx="298.7" cy="367.2" r="4.5"/><circle cx="298.7" cy="310.0" r="4.5"/><circle cx="298.7" cy="351.1" r="4.5"/><circle cx="298.7" cy="322.2" r="4.5"/><circle cx="298.7" cy="327.2" r="4.5"/><circle cx="298.7" cy="361.7" r="4.5"/><circle cx="298.7" cy="407.5" r="4.5"/><circle cx="310.7" cy="361.8" r="4.5"/><circle cx="310.7" cy="329.3" r="4.5"/><circle cx="310.7" cy="334.7" r="4.5"/><circle cx="310.7" cy="327.2" r="4.5"/><circle cx="310.7" cy="346.7" r="4.5"/><circle cx="310.7" cy="373.0" r="4.5"/><circle cx="310.7" cy="353.1" r="4.5"/><circle cx="310.7" cy="307.4" r="4.5"/><circle cx="310.7" cy="391.2" r="4.5"/><circle cx="310.7" cy="397.5" r="4.5"/><circle cx="322.7" cy="369.6" r="4.5"/><circle cx="322.7" cy="356.8" r="4.5"/><circle cx="322.7" cy="348.1" r="4.5"/><circle cx="322.7" cy="338.3" r="4.5"/><circle cx="322.7" cy="342.2" r="4.5"/><circle cx="322.7" cy="335.0" r="4.5"/><circle cx="322.7" cy="354.7" r="4.5"/><circle cx="322.7" cy="354.5" r="4.5"/><circle cx="322.7" cy="426.8" r="4.5"/><circle cx="322.7" cy="440.0" r="4.5"/><circle cx="334.7" cy="404.7" r="4.5"/><circle cx="334.7" cy="396.3" r="4.5"/><circle cx="334.7" cy="360.8" r="4.5"/><circle cx="334.7" cy="294.6" r="4.5"/><circle cx="334.7" cy="416.0" r="4.5"/><circle cx="334.7" cy="393.0" r="4.5"/><circle cx="334.7" cy="355.6" r="4.5"/><circle cx="334.7" cy="335.2" r="4.5"/><circle cx="334.7" cy="452.0" r="4.5"/><circle cx="334.7" cy="276.8" r="4.5"/><circle cx="346.8" cy="403.2" r="4.5"/><circle cx="346.8" cy="355.8" r="4.5"/><circle cx="346.8" cy="377.5" r="4.5"/><circle cx="346.8" cy="348.1" r="4.5"/><circle cx="346.8" cy="392.1" r="4.5"/><circle cx="346.8" cy="413.3" r="4.5"/><circle cx="346.8" cy="414.1" r="4.5"/><circle cx="346.8" cy="351.2" r="4.5"/><circle cx="346.8" cy="407.7" r="4.5"/><circle cx="346.8" cy="447.0" r="4.5"/><circle cx="358.8" cy="373.6" r="4.5"/><circle cx="358.8" cy="338.0" r="4.5"/><circle cx="358.8" cy="373.9" r="4.5"/><circle cx="358.8" cy="332.1" r="4.5"/><circle cx="358.8" cy="360.0" r="4.5"/><circle cx="358.8" cy="360.8" r="4.5"/><circle cx="358.8" cy="374.0" r="4.5"/><circle cx="358.8" cy="418.0" r="4.5"/><circle cx="358.8" cy="427.0" r="4.5"/><circle cx="358.8" cy="290.0" r="4.5"/><circle cx="370.8" cy="372.2" r="4.5"/><circle cx="370.8" cy="324.7" r="4.5"/><circle cx="370.8" cy="340.9" r="4.5"/><circle cx="370.8" cy="367.9" r="4.5"/><circle cx="370.8" cy="366.0" r="4.5"/><circle cx="370.8" cy="383.2" r="4.5"/><circle cx="370.8" cy="328.4" r="4.5"/><circle cx="370.8" cy="400.0" r="4.5"/><circle cx="370.8" cy="393.1" r="4.5"/><circle cx="370.8" cy="423.8" r="4.5"/><circle cx="382.8" cy="361.7" r="4.5"/><circle cx="382.8" cy="378.1" r="4.5"/><circle cx="382.8" cy="335.3" r="4.5"/><circle cx="382.8" cy="356.8" r="4.5"/><circle cx="382.8" cy="316.7" r="4.5"/><circle cx="382.8" cy="365.1" r="4.5"/><circle cx="382.8" cy="368.9" r="4.5"/><circle cx="382.8" cy="408.3" r="4.5"/><circle cx="382.8" cy="433.0" r="4.5"/><circle cx="382.8" cy="455.0" r="4.5"/><circle cx="394.8" cy="398.7" r="4.5"/><circle cx="394.8" cy="327.0" r="4.5"/><circle cx="394.8" cy="374.2" r="4.5"/><circle cx="394.8" cy="390.4" r="4.5"/><circle cx="394.8" cy="329.1" r="4.5"/><circle cx="394.8" cy="390.1" r="4.5"/><circle cx="394.8" cy="332.5" r="4.5"/><circle cx="394.8" cy="309.1" r="4.5"/><circle cx="394.8" cy="371.1" r="4.5"/><circle cx="394.8" cy="421.8" r="4.5"/><circle cx="406.9" cy="316.4" r="4.5"/><circle cx="406.9" cy="340.5" r="4.5"/><circle cx="406.9" cy="387.0" r="4.5"/><circle cx="406.9" cy="382.0" r="4.5"/><circle cx="406.9" cy="344.5" r="4.5"/><circle cx="406.9" cy="337.6" r="4.5"/><circle cx="406.9" cy="359.4" r="4.5"/><circle cx="406.9" cy="400.0" r="4.5"/><circle cx="406.9" cy="415.0" r="4.5"/><circle cx="406.9" cy="290.0" r="4.5"/><circle cx="418.9" cy="378.1" r="4.5"/><circle cx="418.9" cy="362.4" r="4.5"/><circle cx="418.9" cy="365.0" r="4.5"/><circle cx="418.9" cy="368.6" r="4.5"/><circle cx="418.9" cy="300.0" r="4.5"/><circle cx="418.9" cy="360.0" r="4.5"/><circle cx="418.9" cy="312.0" r="4.5"/><circle cx="418.9" cy="303.2" r="4.5"/><circle cx="418.9" cy="376.7" r="4.5"/><circle cx="418.9" cy="390.0" r="4.5"/><circle cx="430.9" cy="413.0" r="4.5"/><circle cx="430.9" cy="393.3" r="4.5"/><circle cx="430.9" cy="377.1" r="4.5"/><circle cx="430.9" cy="327.0" r="4.5"/><circle cx="430.9" cy="325.6" r="4.5"/><circle cx="430.9" cy="406.7" r="4.5"/><circle cx="430.9" cy="397.2" r="4.5"/><circle cx="430.9" cy="393.8" r="4.5"/><circle cx="430.9" cy="323.7" r="4.5"/><circle cx="430.9" cy="440.0" r="4.5"/><circle cx="442.9" cy="407.4" r="4.5"/><circle cx="442.9" cy="424.7" r="4.5"/><circle cx="442.9" cy="349.6" r="4.5"/><circle cx="442.9" cy="364.1" r="4.5"/><circle cx="442.9" cy="405.7" r="4.5"/><circle cx="442.9" cy="437.5" r="4.5"/><circle cx="442.9" cy="412.7" r="4.5"/><circle cx="442.9" cy="427.5" r="4.5"/><circle cx="442.9" cy="360.5" r="4.5"/><circle cx="442.9" cy="475.5" r="4.5"/><circle cx="455.0" cy="375.6" r="4.5"/><circle cx="455.0" cy="340.6" r="4.5"/><circle cx="455.0" cy="339.5" r="4.5"/><circle cx="455.0" cy="340.5" r="4.5"/><circle cx="455.0" cy="397.5" r="4.5"/><circle cx="455.0" cy="372.4" r="4.5"/><circle cx="455.0" cy="417.1" r="4.5"/><circle cx="455.0" cy="376.6" r="4.5"/><circle cx="455.0" cy="420.7" r="4.5"/><circle cx="455.0" cy="522.5" r="4.5"/><circle cx="467.0" cy="403.4" r="4.5"/><circle cx="467.0" cy="333.7" r="4.5"/><circle cx="467.0" cy="422.8" r="4.5"/><circle cx="467.0" cy="419.2" r="4.5"/><circle cx="467.0" cy="383.3" r="4.5"/><circle cx="467.0" cy="378.1" r="4.5"/><circle cx="467.0" cy="425.9" r="4.5"/><circle cx="467.0" cy="419.6" r="4.5"/><circle cx="467.0" cy="413.8" r="4.5"/><circle cx="467.0" cy="333.3" r="4.5"/><circle cx="479.0" cy="397.3" r="4.5"/><circle cx="479.0" cy="408.1" r="4.5"/><circle cx="479.0" cy="355.1" r="4.5"/><circle cx="479.0" cy="404.2" r="4.5"/><circle cx="479.0" cy="419.3" r="4.5"/><circle cx="479.0" cy="366.3" r="4.5"/><circle cx="479.0" cy="422.5" r="4.5"/><circle cx="479.0" cy="355.2" r="4.5"/><circle cx="479.0" cy="346.9" r="4.5"/><circle cx="479.0" cy="467.5" r="4.5"/><circle cx="491.0" cy="415.0" r="4.5"/><circle cx="491.0" cy="394.4" r="4.5"/><circle cx="491.0" cy="433.5" r="4.5"/><circle cx="491.0" cy="386.4" r="4.5"/><circle cx="491.0" cy="418.5" r="4.5"/><circle cx="491.0" cy="363.5" r="4.5"/><circle cx="491.0" cy="415.3" r="4.5"/><circle cx="491.0" cy="540.0" r="4.5"/><circle cx="491.0" cy="280.0" r="4.5"/><circle cx="491.0" cy="327.5" r="4.5"/><circle cx="503.1" cy="411.6" r="4.5"/><circle cx="503.1" cy="344.4" r="4.5"/><circle cx="503.1" cy="349.9" r="4.5"/><circle cx="503.1" cy="412.9" r="4.5"/><circle cx="503.1" cy="371.8" r="4.5"/><circle cx="503.1" cy="361.5" r="4.5"/><circle cx="503.1" cy="420.0" r="4.5"/><circle cx="503.1" cy="410.3" r="4.5"/><circle cx="503.1" cy="423.9" r="4.5"/><circle cx="503.1" cy="453.8" r="4.5"/><circle cx="515.1" cy="417.6" r="4.5"/><circle cx="515.1" cy="404.1" r="4.5"/><circle cx="515.1" cy="459.2" r="4.5"/><circle cx="515.1" cy="422.4" r="4.5"/><circle cx="515.1" cy="451.7" r="4.5"/><circle cx="515.1" cy="338.2" r="4.5"/><circle cx="515.1" cy="342.9" r="4.5"/><circle cx="515.1" cy="426.4" r="4.5"/><circle cx="515.1" cy="473.0" r="4.5"/><circle cx="515.1" cy="277.5" r="4.5"/><circle cx="527.1" cy="325.2" r="4.5"/><circle cx="527.1" cy="429.5" r="4.5"/><circle cx="527.1" cy="286.3" r="4.5"/><circle cx="527.1" cy="428.4" r="4.5"/><circle cx="527.1" cy="395.8" r="4.5"/><circle cx="527.1" cy="411.7" r="4.5"/><circle cx="527.1" cy="304.6" r="4.5"/><circle cx="527.1" cy="397.4" r="4.5"/><circle cx="527.1" cy="428.2" r="4.5"/><circle cx="527.1" cy="301.0" r="4.5"/><circle cx="539.1" cy="341.3" r="4.5"/><circle cx="539.1" cy="376.3" r="4.5"/><circle cx="539.1" cy="450.3" r="4.5"/><circle cx="539.1" cy="429.7" r="4.5"/><circle cx="539.1" cy="367.2" r="4.5"/><circle cx="539.1" cy="341.7" r="4.5"/><circle cx="539.1" cy="428.1" r="4.5"/><circle cx="539.1" cy="433.9" r="4.5"/><circle cx="539.1" cy="468.0" r="4.5"/><circle cx="539.1" cy="468.5" r="4.5"/><circle cx="551.2" cy="399.4" r="4.5"/><circle cx="551.2" cy="396.8" r="4.5"/><circle cx="551.2" cy="404.2" r="4.5"/><circle cx="551.2" cy="358.7" r="4.5"/><circle cx="551.2" cy="335.3" r="4.5"/><circle cx="551.2" cy="461.6" r="4.5"/><circle cx="551.2" cy="441.9" r="4.5"/><circle cx="551.2" cy="487.5" r="4.5"/><circle cx="551.2" cy="497.0" r="4.5"/><circle cx="551.2" cy="280.0" r="4.5"/><circle cx="563.2" cy="377.5" r="4.5"/><circle cx="563.2" cy="447.0" r="4.5"/><circle cx="563.2" cy="426.0" r="4.5"/><circle cx="563.2" cy="418.7" r="4.5"/><circle cx="563.2" cy="367.1" r="4.5"/><circle cx="563.2" cy="366.2" r="4.5"/><circle cx="563.2" cy="410.9" r="4.5"/><circle cx="563.2" cy="445.4" r="4.5"/><circle cx="563.2" cy="437.9" r="4.5"/><circle cx="563.2" cy="448.3" r="4.5"/><circle cx="575.2" cy="383.5" r="4.5"/><circle cx="575.2" cy="386.2" r="4.5"/><circle cx="575.2" cy="396.8" r="4.5"/><circle cx="575.2" cy="350.4" r="4.5"/><circle cx="575.2" cy="441.8" r="4.5"/><circle cx="575.2" cy="403.4" r="4.5"/><circle cx="575.2" cy="366.9" r="4.5"/><circle cx="575.2" cy="466.2" r="4.5"/><circle cx="575.2" cy="468.8" r="4.5"/><circle cx="575.2" cy="331.0" r="4.5"/><circle cx="587.2" cy="384.7" r="4.5"/><circle cx="587.2" cy="379.3" r="4.5"/><circle cx="587.2" cy="412.0" r="4.5"/><circle cx="587.2" cy="363.9" r="4.5"/><circle cx="587.2" cy="453.2" r="4.5"/><circle cx="587.2" cy="391.5" r="4.5"/><circle cx="587.2" cy="374.4" r="4.5"/><circle cx="587.2" cy="446.7" r="4.5"/><circle cx="587.2" cy="501.8" r="4.5"/><circle cx="587.2" cy="292.5" r="4.5"/><circle cx="599.3" cy="369.3" r="4.5"/><circle cx="599.3" cy="424.4" r="4.5"/><circle cx="599.3" cy="448.5" r="4.5"/><circle cx="599.3" cy="417.7" r="4.5"/><circle cx="599.3" cy="326.8" r="4.5"/><circle cx="599.3" cy="392.8" r="4.5"/><circle cx="599.3" cy="344.5" r="4.5"/><circle cx="599.3" cy="477.3" r="4.5"/><circle cx="599.3" cy="493.8" r="4.5"/><circle cx="599.3" cy="535.0" r="4.5"/><circle cx="611.3" cy="445.0" r="4.5"/><circle cx="611.3" cy="393.7" r="4.5"/><circle cx="611.3" cy="386.8" r="4.5"/><circle cx="611.3" cy="484.5" r="4.5"/><circle cx="611.3" cy="404.4" r="4.5"/><circle cx="611.3" cy="452.6" r="4.5"/><circle cx="611.3" cy="427.2" r="4.5"/><circle cx="611.3" cy="550.8" r="4.5"/><circle cx="611.3" cy="593.8" r="4.5"/><circle cx="611.3" cy="323.8" r="4.5"/><circle cx="623.3" cy="464.4" r="4.5"/><circle cx="623.3" cy="418.9" r="4.5"/><circle cx="623.3" cy="397.2" r="4.5"/><circle cx="623.3" cy="414.8" r="4.5"/><circle cx="623.3" cy="442.2" r="4.5"/><circle cx="623.3" cy="450.0" r="4.5"/><circle cx="623.3" cy="375.9" r="4.5"/><circle cx="623.3" cy="347.1" r="4.5"/><circle cx="623.3" cy="343.2" r="4.5"/><circle cx="623.3" cy="508.8" r="4.5"/><circle cx="635.3" cy="358.3" r="4.5"/><circle cx="635.3" cy="348.9" r="4.5"/><circle cx="635.3" cy="356.8" r="4.5"/><circle cx="635.3" cy="340.6" r="4.5"/><circle cx="635.3" cy="423.0" r="4.5"/><circle cx="635.3" cy="338.5" r="4.5"/><circle cx="635.3" cy="394.6" r="4.5"/><circle cx="635.3" cy="528.0" r="4.5"/><circle cx="635.3" cy="573.8" r="4.5"/><circle cx="635.3" cy="232.5" r="4.5"/><circle cx="647.3" cy="321.6" r="4.5"/><circle cx="647.3" cy="397.5" r="4.5"/><circle cx="647.3" cy="359.7" r="4.5"/><circle cx="647.3" cy="291.2" r="4.5"/><circle cx="647.3" cy="443.2" r="4.5"/><circle cx="647.3" cy="378.4" r="4.5"/><circle cx="647.3" cy="402.0" r="4.5"/><circle cx="647.3" cy="318.9" r="4.5"/><circle cx="647.3" cy="457.5" r="4.5"/><circle cx="647.3" cy="467.5" r="4.5"/><circle cx="659.4" cy="433.8" r="4.5"/><circle cx="659.4" cy="348.6" r="4.5"/><circle cx="659.4" cy="326.6" r="4.5"/><circle cx="659.4" cy="400.5" r="4.5"/><circle cx="659.4" cy="402.0" r="4.5"/><circle cx="659.4" cy="433.7" r="4.5"/><circle cx="659.4" cy="412.7" r="4.5"/><circle cx="659.4" cy="392.2" r="4.5"/><circle cx="659.4" cy="378.1" r="4.5"/><circle cx="659.4" cy="496.8" r="4.5"/><circle cx="671.4" cy="364.3" r="4.5"/><circle cx="671.4" cy="460.9" r="4.5"/><circle cx="671.4" cy="414.5" r="4.5"/><circle cx="671.4" cy="423.9" r="4.5"/><circle cx="671.4" cy="452.8" r="4.5"/><circle cx="671.4" cy="356.3" r="4.5"/><circle cx="671.4" cy="436.0" r="4.5"/><circle cx="671.4" cy="517.5" r="4.5"/><circle cx="671.4" cy="253.8" r="4.5"/><circle cx="671.4" cy="275.0" r="4.5"/><circle cx="683.4" cy="357.4" r="4.5"/><circle cx="683.4" cy="476.3" r="4.5"/><circle cx="683.4" cy="380.1" r="4.5"/><circle cx="683.4" cy="436.9" r="4.5"/><circle cx="683.4" cy="340.7" r="4.5"/><circle cx="683.4" cy="313.3" r="4.5"/><circle cx="683.4" cy="425.6" r="4.5"/><circle cx="683.4" cy="369.6" r="4.5"/><circle cx="683.4" cy="501.2" r="4.5"/><circle cx="683.4" cy="503.8" r="4.5"/><circle cx="695.4" cy="361.5" r="4.5"/><circle cx="695.4" cy="436.2" r="4.5"/><circle cx="695.4" cy="343.7" r="4.5"/><circle cx="695.4" cy="454.8" r="4.5"/><circle cx="695.4" cy="425.9" r="4.5"/><circle cx="695.4" cy="447.0" r="4.5"/><circle cx="695.4" cy="346.7" r="4.5"/><circle cx="695.4" cy="439.2" r="4.5"/><circle cx="695.4" cy="470.0" r="4.5"/><circle cx="695.4" cy="287.5" r="4.5"/><circle cx="707.5" cy="343.2" r="4.5"/><circle cx="707.5" cy="370.5" r="4.5"/><circle cx="707.5" cy="412.1" r="4.5"/><circle cx="707.5" cy="448.4" r="4.5"/><circle cx="707.5" cy="443.6" r="4.5"/><circle cx="707.5" cy="371.1" r="4.5"/><circle cx="707.5" cy="438.6" r="4.5"/><circle cx="707.5" cy="378.3" r="4.5"/><circle cx="707.5" cy="464.6" r="4.5"/><circle cx="707.5" cy="599.5" r="4.5"/><circle cx="719.5" cy="351.7" r="4.5"/><circle cx="719.5" cy="506.6" r="4.5"/><circle cx="719.5" cy="320.0" r="4.5"/><circle cx="719.5" cy="447.5" r="4.5"/><circle cx="719.5" cy="337.3" r="4.5"/><circle cx="719.5" cy="462.1" r="4.5"/><circle cx="719.5" cy="435.3" r="4.5"/><circle cx="719.5" cy="398.4" r="4.5"/><circle cx="719.5" cy="516.2" r="4.5"/><circle cx="719.5" cy="537.5" r="4.5"/><circle cx="731.5" cy="360.3" r="4.5"/><circle cx="731.5" cy="495.5" r="4.5"/><circle cx="731.5" cy="445.7" r="4.5"/><circle cx="731.5" cy="338.9" r="4.5"/><circle cx="731.5" cy="458.6" r="4.5"/><circle cx="731.5" cy="406.2" r="4.5"/><circle cx="731.5" cy="410.9" r="4.5"/><circle cx="731.5" cy="528.8" r="4.5"/><circle cx="731.5" cy="535.0" r="4.5"/><circle cx="731.5" cy="320.0" r="4.5"/><circle cx="743.5" cy="408.3" r="4.5"/><circle cx="743.5" cy="462.1" r="4.5"/><circle cx="743.5" cy="391.1" r="4.5"/><circle cx="743.5" cy="541.2" r="4.5"/><circle cx="743.5" cy="473.5" r="4.5"/><circle cx="743.5" cy="505.1" r="4.5"/><circle cx="743.5" cy="409.5" r="4.5"/><circle cx="743.5" cy="350.9" r="4.5"/><circle cx="743.5" cy="571.2" r="4.5"/><circle cx="743.5" cy="599.5" r="4.5"/><circle cx="755.6" cy="391.2" r="4.5"/><circle cx="755.6" cy="488.6" r="4.5"/><circle cx="755.6" cy="385.8" r="4.5"/><circle cx="755.6" cy="476.3" r="4.5"/><circle cx="755.6" cy="425.7" r="4.5"/><circle cx="755.6" cy="420.1" r="4.5"/><circle cx="755.6" cy="472.0" r="4.5"/><circle cx="755.6" cy="357.8" r="4.5"/><circle cx="755.6" cy="553.8" r="4.5"/><circle cx="755.6" cy="578.8" r="4.5"/><circle cx="767.6" cy="415.1" r="4.5"/><circle cx="767.6" cy="382.9" r="4.5"/><circle cx="767.6" cy="431.7" r="4.5"/><circle cx="767.6" cy="433.3" r="4.5"/><circle cx="767.6" cy="487.9" r="4.5"/><circle cx="767.6" cy="428.1" r="4.5"/><circle cx="767.6" cy="344.1" r="4.5"/><circle cx="767.6" cy="393.4" r="4.5"/><circle cx="767.6" cy="521.8" r="4.5"/><circle cx="767.6" cy="536.8" r="4.5"/><circle cx="779.6" cy="285.2" r="4.5"/><circle cx="779.6" cy="535.5" r="4.5"/><circle cx="779.6" cy="523.6" r="4.5"/><circle cx="779.6" cy="508.9" r="4.5"/><circle cx="779.6" cy="294.9" r="4.5"/><circle cx="779.6" cy="408.3" r="4.5"/><circle cx="779.6" cy="490.9" r="4.5"/><circle cx="779.6" cy="513.5" r="4.5"/><circle cx="779.6" cy="596.8" r="4.5"/><circle cx="779.6" cy="317.5" r="4.5"/><circle cx="791.6" cy="531.2" r="4.5"/><circle cx="791.6" cy="369.7" r="4.5"/><circle cx="791.6" cy="553.1" r="4.5"/><circle cx="791.6" cy="520.2" r="4.5"/><circle cx="791.6" cy="391.9" r="4.5"/><circle cx="791.6" cy="369.0" r="4.5"/><circle cx="791.6" cy="453.1" r="4.5"/><circle cx="791.6" cy="475.2" r="4.5"/><circle cx="791.6" cy="546.1" r="4.5"/><circle cx="791.6" cy="578.0" r="4.5"/><circle cx="803.7" cy="508.7" r="4.5"/><circle cx="803.7" cy="350.2" r="4.5"/><circle cx="803.7" cy="459.7" r="4.5"/><circle cx="803.7" cy="365.9" r="4.5"/><circle cx="803.7" cy="475.5" r="4.5"/><circle cx="803.7" cy="442.9" r="4.5"/><circle cx="803.7" cy="502.3" r="4.5"/><circle cx="803.7" cy="399.2" r="4.5"/><circle cx="803.7" cy="540.5" r="4.5"/><circle cx="803.7" cy="567.5" r="4.5"/><circle cx="815.7" cy="464.0" r="4.5"/><circle cx="815.7" cy="418.7" r="4.5"/><circle cx="815.7" cy="424.5" r="4.5"/><circle cx="815.7" cy="460.7" r="4.5"/><circle cx="815.7" cy="448.1" r="4.5"/><circle cx="815.7" cy="469.5" r="4.5"/><circle cx="815.7" cy="496.5" r="4.5"/><circle cx="815.7" cy="555.5" r="4.5"/><circle cx="815.7" cy="270.0" r="4.5"/><circle cx="815.7" cy="317.5" r="4.5"/><circle cx="827.7" cy="490.1" r="4.5"/><circle cx="827.7" cy="338.5" r="4.5"/><circle cx="827.7" cy="376.1" r="4.5"/><circle cx="827.7" cy="482.5" r="4.5"/><circle cx="827.7" cy="467.5" r="4.5"/><circle cx="827.7" cy="481.4" r="4.5"/><circle cx="827.7" cy="345.1" r="4.5"/><circle cx="827.7" cy="441.3" r="4.5"/><circle cx="827.7" cy="467.5" r="4.5"/><circle cx="827.7" cy="522.5" r="4.5"/><circle cx="839.7" cy="460.5" r="4.5"/><circle cx="839.7" cy="370.5" r="4.5"/><circle cx="839.7" cy="453.6" r="4.5"/><circle cx="839.7" cy="446.8" r="4.5"/><circle cx="839.7" cy="388.5" r="4.5"/><circle cx="839.7" cy="481.2" r="4.5"/><circle cx="839.7" cy="462.7" r="4.5"/><circle cx="839.7" cy="451.1" r="4.5"/><circle cx="839.7" cy="565.0" r="4.5"/><circle cx="839.7" cy="582.5" r="4.5"/><circle cx="851.8" cy="370.8" r="4.5"/><circle cx="851.8" cy="410.0" r="4.5"/><circle cx="851.8" cy="501.4" r="4.5"/><circle cx="851.8" cy="358.5" r="4.5"/><circle cx="851.8" cy="514.4" r="4.5"/><circle cx="851.8" cy="440.5" r="4.5"/><circle cx="851.8" cy="445.0" r="4.5"/><circle cx="851.8" cy="494.3" r="4.5"/><circle cx="851.8" cy="574.5" r="4.5"/><circle cx="851.8" cy="328.0" r="4.5"/><circle cx="863.8" cy="381.6" r="4.5"/><circle cx="863.8" cy="460.6" r="4.5"/><circle cx="863.8" cy="545.8" r="4.5"/><circle cx="863.8" cy="536.0" r="4.5"/><circle cx="863.8" cy="527.2" r="4.5"/><circle cx="863.8" cy="559.6" r="4.5"/><circle cx="863.8" cy="512.4" r="4.5"/><circle cx="863.8" cy="525.3" r="4.5"/><circle cx="863.8" cy="364.4" r="4.5"/><circle cx="863.8" cy="337.1" r="4.5"/><circle cx="875.8" cy="397.9" r="4.5"/><circle cx="875.8" cy="351.0" r="4.5"/><circle cx="875.8" cy="520.1" r="4.5"/><circle cx="875.8" cy="322.6" r="4.5"/><circle cx="875.8" cy="471.1" r="4.5"/><circle cx="875.8" cy="551.9" r="4.5"/><circle cx="875.8" cy="521.0" r="4.5"/><circle cx="875.8" cy="523.1" r="4.5"/><circle cx="875.8" cy="595.0" r="4.5"/><circle cx="875.8" cy="333.8" r="4.5"/><circle cx="887.8" cy="360.5" r="4.5"/><circle cx="887.8" cy="405.0" r="4.5"/><circle cx="887.8" cy="430.0" r="4.5"/><circle cx="887.8" cy="433.8" r="4.5"/><circle cx="887.8" cy="472.5" r="4.5"/><circle cx="887.8" cy="495.0" r="4.5"/><circle cx="887.8" cy="561.2" r="4.5"/><circle cx="887.8" cy="570.0" r="4.5"/><circle cx="887.8" cy="588.8" r="4.5"/><circle cx="887.8" cy="645.8" r="4.5"/><circle cx="899.9" cy="436.3" r="4.5"/><circle cx="899.9" cy="328.2" r="4.5"/><circle cx="899.9" cy="387.5" r="4.5"/><circle cx="899.9" cy="407.5" r="4.5"/><circle cx="899.9" cy="415.0" r="4.5"/><circle cx="899.9" cy="445.0" r="4.5"/><circle cx="899.9" cy="465.0" r="4.5"/><circle cx="899.9" cy="517.5" r="4.5"/><circle cx="899.9" cy="526.2" r="4.5"/><circle cx="899.9" cy="596.8" r="4.5"/><circle cx="911.9" cy="353.5" r="4.5"/><circle cx="911.9" cy="364.0" r="4.5"/><circle cx="911.9" cy="375.0" r="4.5"/><circle cx="911.9" cy="388.8" r="4.5"/><circle cx="911.9" cy="423.8" r="4.5"/><circle cx="911.9" cy="455.0" r="4.5"/><circle cx="911.9" cy="498.8" r="4.5"/><circle cx="911.9" cy="516.2" r="4.5"/><circle cx="911.9" cy="526.2" r="4.5"/><circle cx="911.9" cy="573.8" r="4.5"/><circle cx="923.9" cy="410.0" r="4.5"/><circle cx="923.9" cy="436.2" r="4.5"/><circle cx="923.9" cy="451.2" r="4.5"/><circle cx="923.9" cy="467.5" r="4.5"/><circle cx="923.9" cy="485.0" r="4.5"/><circle cx="923.9" cy="492.5" r="4.5"/><circle cx="923.9" cy="501.2" r="4.5"/><circle cx="923.9" cy="513.8" r="4.5"/><circle cx="923.9" cy="520.0" r="4.5"/><circle cx="923.9" cy="538.8" r="4.5"/><circle cx="935.9" cy="346.3" r="4.5"/><circle cx="935.9" cy="359.4" r="4.5"/><circle cx="935.9" cy="438.5" r="4.5"/><circle cx="935.9" cy="487.6" r="4.5"/><circle cx="935.9" cy="418.8" r="4.5"/><circle cx="935.9" cy="426.2" r="4.5"/><circle cx="935.9" cy="456.2" r="4.5"/><circle cx="935.9" cy="492.5" r="4.5"/><circle cx="935.9" cy="538.8" r="4.5"/><circle cx="935.9" cy="585.8" r="4.5"/><circle cx="947.9" cy="409.7" r="4.5"/><circle cx="947.9" cy="356.1" r="4.5"/><circle cx="947.9" cy="368.0" r="4.5"/><circle cx="947.9" cy="446.2" r="4.5"/><circle cx="947.9" cy="457.5" r="4.5"/><circle cx="947.9" cy="461.2" r="4.5"/><circle cx="947.9" cy="535.0" r="4.5"/><circle cx="947.9" cy="548.8" r="4.5"/><circle cx="947.9" cy="574.5" r="4.5"/><circle cx="947.9" cy="630.5" r="4.5"/><circle cx="960.0" cy="422.5" r="4.5"/><circle cx="960.0" cy="450.0" r="4.5"/><circle cx="960.0" cy="506.2" r="4.5"/><circle cx="960.0" cy="522.5" r="4.5"/><circle cx="960.0" cy="533.8" r="4.5"/><circle cx="960.0" cy="551.8" r="4.5"/><circle cx="960.0" cy="557.5" r="4.5"/><circle cx="960.0" cy="657.0" r="4.5"/><circle cx="960.0" cy="684.2" r="4.5"/><circle cx="960.0" cy="702.0" r="4.5"/><circle cx="972.0" cy="395.0" r="4.5"/><circle cx="972.0" cy="415.0" r="4.5"/><circle cx="972.0" cy="427.5" r="4.5"/><circle cx="972.0" cy="441.2" r="4.5"/><circle cx="972.0" cy="480.0" r="4.5"/><circle cx="972.0" cy="517.5" r="4.5"/><circle cx="972.0" cy="526.2" r="4.5"/><circle cx="972.0" cy="570.0" r="4.5"/><circle cx="972.0" cy="600.0" r="4.5"/><circle cx="972.0" cy="618.8" r="4.5"/><circle cx="984.0" cy="336.2" r="4.5"/><circle cx="984.0" cy="423.8" r="4.5"/><circle cx="984.0" cy="432.5" r="4.5"/><circle cx="984.0" cy="443.8" r="4.5"/><circle cx="984.0" cy="468.8" r="4.5"/><circle cx="984.0" cy="492.5" r="4.5"/><circle cx="984.0" cy="512.5" r="4.5"/><circle cx="984.0" cy="606.2" r="4.5"/><circle cx="984.0" cy="623.8" r="4.5"/><circle cx="984.0" cy="665.0" r="4.5"/><circle cx="996.0" cy="286.2" r="4.5"/><circle cx="996.0" cy="302.5" r="4.5"/><circle cx="996.0" cy="398.8" r="4.5"/><circle cx="996.0" cy="415.0" r="4.5"/><circle cx="996.0" cy="420.0" r="4.5"/><circle cx="996.0" cy="437.5" r="4.5"/><circle cx="996.0" cy="513.8" r="4.5"/><circle cx="996.0" cy="517.5" r="4.5"/><circle cx="996.0" cy="521.2" r="4.5"/><circle cx="996.0" cy="562.5" r="4.5"/><circle cx="1008.1" cy="333.8" r="4.5"/><circle cx="1008.1" cy="397.5" r="4.5"/><circle cx="1008.1" cy="417.5" r="4.5"/><circle cx="1008.1" cy="437.5" r="4.5"/><circle cx="1008.1" cy="466.2" r="4.5"/><circle cx="1008.1" cy="540.0" r="4.5"/><circle cx="1008.1" cy="570.0" r="4.5"/><circle cx="1008.1" cy="591.0" r="4.5"/><circle cx="1008.1" cy="596.0" r="4.5"/><circle cx="1008.1" cy="833.8" r="4.5"/><circle cx="1020.1" cy="395.0" r="4.5"/><circle cx="1020.1" cy="398.8" r="4.5"/><circle cx="1020.1" cy="416.2" r="4.5"/><circle cx="1020.1" cy="425.0" r="4.5"/><circle cx="1020.1" cy="428.8" r="4.5"/><circle cx="1020.1" cy="448.8" r="4.5"/><circle cx="1020.1" cy="449.5" r="4.5"/><circle cx="1020.1" cy="490.0" r="4.5"/><circle cx="1020.1" cy="506.2" r="4.5"/><circle cx="1020.1" cy="530.0" r="4.5"/><circle cx="1032.1" cy="320.0" r="4.5"/><circle cx="1032.1" cy="386.0" r="4.5"/><circle cx="1032.1" cy="468.8" r="4.5"/><circle cx="1032.1" cy="548.8" r="4.5"/><circle cx="1032.1" cy="562.0" r="4.5"/><circle cx="1032.1" cy="588.0" r="4.5"/><circle cx="1032.1" cy="613.8" r="4.5"/><circle cx="1032.1" cy="623.8" r="4.5"/><circle cx="1032.1" cy="626.2" r="4.5"/><circle cx="1032.1" cy="764.9" r="4.5"/><circle cx="1044.1" cy="338.5" r="4.5"/><circle cx="1044.1" cy="382.5" r="4.5"/><circle cx="1044.1" cy="440.0" r="4.5"/><circle cx="1044.1" cy="460.0" r="4.5"/><circle cx="1044.1" cy="492.5" r="4.5"/><circle cx="1044.1" cy="500.0" r="4.5"/><circle cx="1044.1" cy="548.8" r="4.5"/><circle cx="1044.1" cy="552.5" r="4.5"/><circle cx="1044.1" cy="566.2" r="4.5"/><circle cx="1044.1" cy="744.0" r="4.5"/></g>
<g class="p" fill="#619CFF" stroke="#619CFF"><circle cx="166.4" cy="341.9" r="4.5"/><circle cx="166.4" cy="316.4" r="4.5"/><circle cx="166.4" cy="317.1" r="4.5"/><circle cx="166.4" cy="315.7" r="4.5"/><circle cx="166.4" cy="333.5" r="4.5"/><circle cx="166.4" cy="346.2" r="4.5"/><circle cx="166.4" cy="332.9" r="4.5"/><circle cx="166.4" cy="318.5" r="4.5"/><circle cx="166.4" cy="336.9" r="4.5"/><circle cx="166.4" cy="316.0" r="4.5"/><circle cx="178.4" cy="311.8" r="4.5"/><circle cx="178.4" cy="326.0" r="4.5"/><circle cx="178.4" cy="306.3" r="4.5"/><circle cx="178.4" cy="342.9" r="4.5"/><circle cx="178.4" cy="313.4" r="4.5"/><circle cx="178.4" cy="342.0" r="4.5"/><circle cx="178.4" cy="330.5" r="4.5"/><circle cx="178.4" cy="305.3" r="4.5"/><circle cx="178.4" cy="307.3" r="4.5"/><circle cx="178.4" cy="310.5" r="4.5"/><circle cx="190.4" cy="326.5" r="4.5"/><circle cx="190.4" cy="307.5" r="4.5"/><circle cx="190.4" cy="305.3" r="4.5"/><circle cx="190.4" cy="323.0" r="4.5"/><circle cx="190.4" cy="333.1" r="4.5"/><circle cx="190.4" cy="301.7" r="4.5"/><circle cx="190.4" cy="334.7" r="4.5"/><circle cx="190.4" cy="300.1" r="4.5"/><circle cx="190.4" cy="333.8" r="4.5"/><circle cx="190.4" cy="287.5" r="4.5"/><circle cx="202.5" cy="310.9" r="4.5"/><circle cx="202.5" cy="318.5" r="4.5"/><circle cx="202.5" cy="327.6" r="4.5"/><circle cx="202.5" cy="346.8" r="4.5"/><circle cx="202.5" cy="351.2" r="4.5"/><circle cx="202.5" cy="303.1" r="4.5"/><circle cx="202.5" cy="331.1" r="4.5"/><circle cx="202.5" cy="316.5" r="4.5"/><circle cx="202.5" cy="304.9" r="4.5"/><circle cx="202.5" cy="285.5" r="4.5"/><circle cx="214.5" cy="354.8" r="4.5"/><circle cx="214.5" cy="341.0" r="4.5"/><circle cx="214.5" cy="317.0" r="4.5"/><circle cx="214.5" cy="306.3" r="4.5"/><circle cx="214.5" cy="318.4" r="4.5"/><circle cx="214.5" cy="334.8" r="4.5"/><circle cx="214.5" cy="328.7" r="4.5"/><circle cx="214.5" cy="346.2" r="4.5"/><circle cx="214.5" cy="302.0" r="4.5"/><circle cx="214.5" cy="278.8" r="4.5"/><circle cx="226.5" cy="306.7" r="4.5"/><circle cx="226.5" cy="300.1" r="4.5"/><circle cx="226.5" cy="312.4" r="4.5"/><circle cx="226.5" cy="317.8" r="4.5"/><circle cx="226.5" cy="347.8" r="4.5"/><circle cx="226.5" cy="330.6" r="4.5"/><circle cx="226.5" cy="333.3" r="4.5"/><circle cx="226.5" cy="321.3" r="4.5"/><circle cx="226.5" cy="346.6" r="4.5"/><circle cx="226.5" cy="279.5" r="4.5"/><circle cx="238.5" cy="315.6" r="4.5"/><circle cx="238.5" cy="315.8" r="4.5"/><circle cx="238.5" cy="313.5" r="4.5"/><circle cx="238.5" cy="359.8" r="4.5"/><circle cx="238.5" cy="327.9" r="4.5"/><circle cx="238.5" cy="369.6" r="4.5"/><circle cx="238.5" cy="366.2" r="4.5"/><circle cx="238.5" cy="331.1" r="4.5"/><circle cx="238.5" cy="317.6" r="4.5"/><circle cx="238.5" cy="328.9" r="4.5"/><circle cx="250.6" cy="304.9" r="4.5"/><circle cx="250.6" cy="332.4" r="4.5"/><circle cx="250.6" cy="309.1" r="4.5"/><circle cx="250.6" cy="345.4" r="4.5"/><circle cx="250.6" cy="302.2" r="4.5"/><circle cx="250.6" cy="309.3" r="4.5"/><circle cx="250.6" cy="338.7" r="4.5"/><circle cx="250.6" cy="333.6" r="4.5"/><circle cx="250.6" cy="299.7" r="4.5"/><circle cx="250.6" cy="287.0" r="4.5"/><circle cx="262.6" cy="312.0" r="4.5"/><circle cx="262.6" cy="327.5" r="4.5"/><circle cx="262.6" cy="326.5" r="4.5"/><circle cx="262.6" cy="308.7" r="4.5"/><circle cx="262.6" cy="321.9" r="4.5"/><circle cx="262.6" cy="329.7" r="4.5"/><circle cx="262.6" cy="323.4" r="4.5"/><circle cx="262.6" cy="323.7" r="4.5"/><circle cx="262.6" cy="258.8" r="4.5"/><circle cx="262.6" cy="278.0" r="4.5"/><circle cx="274.6" cy="345.4" r="4.5"/><circle cx="274.6" cy="327.3" r="4.5"/><circle cx="274.6" cy="345.5" r="4.5"/><circle cx="274.6" cy="298.0" r="4.5"/><circle cx="274.6" cy="310.7" r="4.5"/><circle cx="274.6" cy="298.1" r="4.5"/><circle cx="274.6" cy="301.1" r="4.5"/><circle cx="274.6" cy="307.6" r="4.5"/><circle cx="274.6" cy="349.7" r="4.5"/><circle cx="274.6" cy="294.1" r="4.5"/><circle cx="286.6" cy="312.8" r="4.5"/><circle cx="286.6" cy="329.4" r="4.5"/><circle cx="286.6" cy="310.2" r="4.5"/><circle cx="286.6" cy="346.7" r="4.5"/><circle cx="286.6" cy="314.9" r="4.5"/><circle cx="286.6" cy="329.9" r="4.5"/><circle cx="286.6" cy="301.4" r="4.5"/><circle cx="286.6" cy="303.6" r="4.5"/><circle cx="286.6" cy="343.6" r="4.5"/><circle cx="286.6" cy="292.5" r="4.5"/><circle cx="298.7" cy="302.9" r="4.5"/><circle cx="298.7" cy="333.6" r="4.5"/><circle cx="298.7" cy="348.8" r="4.5"/><circle cx="298.7" cy="304.6" r="4.5"/><circle cx="298.7" cy="352.5" r="4.5"/><circle cx="298.7" cy="357.4" r="4.5"/><circle cx="298.7" cy="332.3" r="4.5"/><circle cx="298.7" cy="305.8" r="4.5"/><circle cx="298.7" cy="324.2" r="4.5"/><circle cx="298.7" cy="303.8" r="4.5"/><circle cx="310.7" cy="330.3" r="4.5"/><circle cx="310.7" cy="282.7" r="4.5"/><circle cx="310.7" cy="291.4" r="4.5"/><circle cx="310.7" cy="307.6" r="4.5"/><circle cx="310.7" cy="310.8" r="4.5"/><circle cx="310.7" cy="324.7" r="4.5"/><circle cx="310.7" cy="281.7" r="4.5"/><circle cx="310.7" cy="310.5" r="4.5"/><circle cx="310.7" cy="265.5" r="4.5"/><circle cx="310.7" cy="273.8" r="4.5"/><circle cx="322.7" cy="317.5" r="4.5"/><circle cx="322.7" cy="312.0" r="4.5"/><circle cx="322.7" cy="326.1" r="4.5"/><circle cx="322.7" cy="317.2" r="4.5"/><circle cx="322.7" cy="332.0" r="4.5"/><circle cx="322.7" cy="320.4" r="4.5"/><circle cx="322.7" cy="312.0" r="4.5"/><circle cx="322.7" cy="325.6" r="4.5"/><circle cx="322.7" cy="268.0" r="4.5"/><circle cx="322.7" cy="275.0" r="4.5"/><circle cx="334.7" cy="296.5" r="4.5"/><circle cx="334.7" cy="299.8" r="4.5"/><circle cx="334.7" cy="333.8" r="4.5"/><circle cx="334.7" cy="310.7" r="4.5"/><circle cx="334.7" cy="296.7" r="4.5"/><circle cx="334.7" cy="288.2" r="4.5"/><circle cx="334.7" cy="357.7" r="4.5"/><circle cx="334.7" cy="350.5" r="4.5"/><circle cx="334.7" cy="253.8" r="4.5"/><circle cx="334.7" cy="266.2" r="4.5"/><circle cx="346.8" cy="315.9" r="4.5"/><circle cx="346.8" cy="331.6" r="4.5"/><circle cx="346.8" cy="312.3" r="4.5"/><circle cx="346.8" cy="330.3" r="4.5"/><circle cx="346.8" cy="310.9" r="4.5"/><circle cx="346.8" cy="339.3" r="4.5"/><circle cx="346.8" cy="295.6" r="4.5"/><circle cx="346.8" cy="329.1" r="4.5"/><circle cx="346.8" cy="264.5" r="4.5"/><circle cx="346.8" cy="267.5" r="4.5"/><circle cx="358.8" cy="338.5" r="4.5"/><circle cx="358.8" cy="347.1" r="4.5"/><circle cx="358.8" cy="296.3" r="4.5"/><circle cx="358.8" cy="324.5" r="4.5"/><circle cx="358.8" cy="315.3" r="4.5"/><circle cx="358.8" cy="294.7" r="4.5"/><circle cx="358.8" cy="338.5" r="4.5"/><circle cx="358.8" cy="301.9" r="4.5"/><circle cx="358.8" cy="309.5" r="4.5"/><circle cx="358.8" cy="281.2" r="4.5"/><circle cx="370.8" cy="291.2" r="4.5"/><circle cx="370.8" cy="307.9" r="4.5"/><circle cx="370.8" cy="293.8" r="4.5"/><circle cx="370.8" cy="322.8" r="4.5"/><circle cx="370.8" cy="312.9" r="4.5"/><circle cx="370.8" cy="320.7" r="4.5"/><circle cx="370.8" cy="335.5" r="4.5"/><circle cx="370.8" cy="341.8" r="4.5"/><circle cx="370.8" cy="296.4" r="4.5"/><circle cx="370.8" cy="279.5" r="4.5"/><circle cx="382.8" cy="293.6" r="4.5"/><circle cx="382.8" cy="314.6" r="4.5"/><circle cx="382.8" cy="297.4" r="4.5"/><circle cx="382.8" cy="314.4" r="4.5"/><circle cx="382.8" cy="308.8" r="4.5"/><circle cx="382.8" cy="307.0" r="4.5"/><circle cx="382.8" cy="296.6" r="4.5"/><circle cx="382.8" cy="307.3" r="4.5"/><circle cx="382.8" cy="225.8" r="4.5"/><circle cx="382.8" cy="262.5" r="4.5"/><circle cx="394.8" cy="324.3" r="4.5"/><circle cx="394.8" cy="308.9" r="4.5"/><circle cx="394.8" cy="288.2" r="4.5"/><circle cx="394.8" cy="314.1" r="4.5"/><circle cx="394.8" cy="327.5" r="4.5"/><circle cx="394.8" cy="282.6" r="4.5"/><circle cx="394.8" cy="273.2" r="4.5"/><circle cx="394.8" cy="292.2" r="4.5"/><circle cx="394.8" cy="278.5" r="4.5"/><circle cx="394.8" cy="229.5" r="4.5"/><circle cx="406.9" cy="280.5" r="4.5"/><circle cx="406.9" cy="317.7" r="4.5"/><circle cx="406.9" cy="279.8" r="4.5"/><circle cx="406.9" cy="268.9" r="4.5"/><circle cx="406.9" cy="261.1" r="4.5"/><circle cx="406.9" cy="327.6" r="4.5"/><circle cx="406.9" cy="326.5" r="4.5"/><circle cx="406.9" cy="323.4" r="4.5"/><circle cx="406.9" cy="240.8" r="4.5"/><circle cx="406.9" cy="253.8" r="4.5"/><circle cx="418.9" cy="303.3" r="4.5"/><circle cx="418.9" cy="291.9" r="4.5"/><circle cx="418.9" cy="304.1" r="4.5"/><circle cx="418.9" cy="276.2" r="4.5"/><circle cx="418.9" cy="334.3" r="4.5"/><circle cx="418.9" cy="269.7" r="4.5"/><circle cx="418.9" cy="313.3" r="4.5"/><circle cx="418.9" cy="310.9" r="4.5"/><circle cx="418.9" cy="246.2" r="4.5"/><circle cx="418.9" cy="250.0" r="4.5"/><circle cx="430.9" cy="276.8" r="4.5"/><circle cx="430.9" cy="303.0" r="4.5"/><circle cx="430.9" cy="318.4" r="4.5"/><circle cx="430.9" cy="299.9" r="4.5"/><circle cx="430.9" cy="308.1" r="4.5"/><circle cx="430.9" cy="325.1" r="4.5"/><circle cx="430.9" cy="310.7" r="4.5"/><circle cx="430.9" cy="288.5" r="4.5"/><circle cx="430.9" cy="225.8" r="4.5"/><circle cx="430.9" cy="243.8" r="4.5"/><circle cx="442.9" cy="281.9" r="4.5"/><circle cx="442.9" cy="280.0" r="4.5"/><circle cx="442.9" cy="280.8" r="4.5"/><circle cx="442.9" cy="324.1" r="4.5"/><circle cx="442.9" cy="341.8" r="4.5"/><circle cx="442.9" cy="342.9" r="4.5"/><circle cx="442.9" cy="314.5" r="4.5"/><circle cx="442.9" cy="276.5" r="4.5"/><circle cx="442.9" cy="287.4" r="4.5"/><circle cx="442.9" cy="250.0" r="4.5"/><circle cx="455.0" cy="309.8" r="4.5"/><circle cx="455.0" cy="316.9" r="4.5"/><circle cx="455.0" cy="291.6" r="4.5"/><circle cx="455.0" cy="269.1" r="4.5"/><circle cx="455.0" cy="295.9" r="4.5"/><circle cx="455.0" cy="297.0" r="4.5"/><circle cx="455.0" cy="338.6" r="4.5"/><circle cx="455.0" cy="312.9" r="4.5"/><circle cx="455.0" cy="225.8" r="4.5"/><circle cx="455.0" cy="322.5" r="4.5"/><circle cx="467.0" cy="323.1" r="4.5"/><circle cx="467.0" cy="294.2" r="4.5"/><circle cx="467.0" cy="266.3" r="4.5"/><circle cx="467.0" cy="276.6" r="4.5"/><circle cx="467.0" cy="325.4" r="4.5"/><circle cx="467.0" cy="335.9" r="4.5"/><circle cx="467.0" cy="264.6" r="4.5"/><circle cx="467.0" cy="274.7" r="4.5"/><circle cx="467.0" cy="250.8" r="4.5"/><circle cx="467.0" cy="326.0" r="4.5"/><circle cx="479.0" cy="328.8" r="4.5"/><circle cx="479.0" cy="336.8" r="4.5"/><circle cx="479.0" cy="327.3" r="4.5"/><circle cx="479.0" cy="287.5" r="4.5"/><circle cx="479.0" cy="266.2" r="4.5"/><circle cx="479.0" cy="268.1" r="4.5"/><circle cx="479.0" cy="269.3" r="4.5"/><circle cx="479.0" cy="262.9" r="4.5"/><circle cx="479.0" cy="245.5" r="4.5"/><circle cx="479.0" cy="332.5" r="4.5"/><circle cx="491.0" cy="273.2" r="4.5"/><circle cx="491.0" cy="297.8" r="4.5"/><circle cx="491.0" cy="307.9" r="4.5"/><circle cx="491.0" cy="314.8" r="4.5"/><circle cx="491.0" cy="280.1" r="4.5"/><circle cx="491.0" cy="293.9" r="4.5"/><circle cx="491.0" cy="289.5" r="4.5"/><circle cx="491.0" cy="309.0" r="4.5"/><circle cx="491.0" cy="236.2" r="4.5"/><circle cx="491.0" cy="247.5" r="4.5"/><circle cx="503.1" cy="278.6" r="4.5"/><circle cx="503.1" cy="255.2" r="4.5"/><circle cx="503.1" cy="250.8" r="4.5"/><circle cx="503.1" cy="301.3" r="4.5"/><circle cx="503.1" cy="320.8" r="4.5"/><circle cx="503.1" cy="261.0" r="4.5"/><circle cx="503.1" cy="250.2" r="4.5"/><circle cx="503.1" cy="245.8" r="4.5"/><circle cx="503.1" cy="229.2" r="4.5"/><circle cx="503.1" cy="337.0" r="4.5"/><circle cx="515.1" cy="253.6" r="4.5"/><circle cx="515.1" cy="263.6" r="4.5"/><circle cx="515.1" cy="276.6" r="4.5"/><circle cx="515.1" cy="320.3" r="4.5"/><circle cx="515.1" cy="249.5" r="4.5"/><circle cx="515.1" cy="252.3" r="4.5"/><circle cx="515.1" cy="338.6" r="4.5"/><circle cx="515.1" cy="246.0" r="4.5"/><circle cx="515.1" cy="322.5" r="4.5"/><circle cx="515.1" cy="327.0" r="4.5"/><circle cx="527.1" cy="291.1" r="4.5"/><circle cx="527.1" cy="231.5" r="4.5"/><circle cx="527.1" cy="264.9" r="4.5"/><circle cx="527.1" cy="367.1" r="4.5"/><circle cx="527.1" cy="365.6" r="4.5"/><circle cx="527.1" cy="271.8" r="4.5"/><circle cx="527.1" cy="335.6" r="4.5"/><circle cx="527.1" cy="267.6" r="4.5"/><circle cx="527.1" cy="196.8" r="4.5"/><circle cx="527.1" cy="228.0" r="4.5"/><circle cx="539.1" cy="246.9" r="4.5"/><circle cx="539.1" cy="277.9" r="4.5"/><circle cx="539.1" cy="287.6" r="4.5"/><circle cx="539.1" cy="261.8" r="4.5"/><circle cx="539.1" cy="326.2" r="4.5"/><circle cx="539.1" cy="270.9" r="4.5"/><circle cx="539.1" cy="295.6" r="4.5"/><circle cx="539.1" cy="213.0" r="4.5"/><circle cx="539.1" cy="225.0" r="4.5"/><circle cx="539.1" cy="325.0" r="4.5"/><circle cx="551.2" cy="256.8" r="4.5"/><circle cx="551.2" cy="335.6" r="4.5"/><circle cx="551.2" cy="292.2" r="4.5"/><circle cx="551.2" cy="253.5" r="4.5"/><circle cx="551.2" cy="261.3" r="4.5"/><circle cx="551.2" cy="302.1" r="4.5"/><circle cx="551.2" cy="270.5" r="4.5"/><circle cx="551.2" cy="312.2" r="4.5"/><circle cx="551.2" cy="241.8" r="4.5"/><circle cx="551.2" cy="319.0" r="4.5"/><circle cx="563.2" cy="251.4" r="4.5"/><circle cx="563.2" cy="244.2" r="4.5"/><circle cx="563.2" cy="345.2" r="4.5"/><circle cx="563.2" cy="248.1" r="4.5"/><circle cx="563.2" cy="322.9" r="4.5"/><circle cx="563.2" cy="256.3" r="4.5"/><circle cx="563.2" cy="332.6" r="4.5"/><circle cx="563.2" cy="334.9" r="4.5"/><circle cx="563.2" cy="278.1" r="4.5"/><circle cx="563.2" cy="236.2" r="4.5"/><circle cx="575.2" cy="262.5" r="4.5"/><circle cx="575.2" cy="265.1" r="4.5"/><circle cx="575.2" cy="246.2" r="4.5"/><circle cx="575.2" cy="250.0" r="4.5"/><circle cx="575.2" cy="284.8" r="4.5"/><circle cx="575.2" cy="272.4" r="4.5"/><circle cx="575.2" cy="248.7" r="4.5"/><circle cx="575.2" cy="189.5" r="4.5"/><circle cx="575.2" cy="216.8" r="4.5"/><circle cx="575.2" cy="319.0" r="4.5"/><circle cx="587.2" cy="354.6" r="4.5"/><circle cx="587.2" cy="306.7" r="4.5"/><circle cx="587.2" cy="275.2" r="4.5"/><circle cx="587.2" cy="276.5" r="4.5"/><circle cx="587.2" cy="317.8" r="4.5"/><circle cx="587.2" cy="305.5" r="4.5"/><circle cx="587.2" cy="328.3" r="4.5"/><circle cx="587.2" cy="339.8" r="4.5"/><circle cx="587.2" cy="228.8" r="4.5"/><circle cx="587.2" cy="237.0" r="4.5"/><circle cx="599.3" cy="366.1" r="4.5"/><circle cx="599.3" cy="239.2" r="4.5"/><circle cx="599.3" cy="232.0" r="4.5"/><circle cx="599.3" cy="267.5" r="4.5"/><circle cx="599.3" cy="388.1" r="4.5"/><circle cx="599.3" cy="238.6" r="4.5"/><circle cx="599.3" cy="178.8" r="4.5"/><circle cx="599.3" cy="194.2" r="4.5"/><circle cx="599.3" cy="322.0" r="4.5"/><circle cx="599.3" cy="336.0" r="4.5"/><circle cx="611.3" cy="334.8" r="4.5"/><circle cx="611.3" cy="273.4" r="4.5"/><circle cx="611.3" cy="248.5" r="4.5"/><circle cx="611.3" cy="255.3" r="4.5"/><circle cx="611.3" cy="296.9" r="4.5"/><circle cx="611.3" cy="310.4" r="4.5"/><circle cx="611.3" cy="244.6" r="4.5"/><circle cx="611.3" cy="287.7" r="4.5"/><circle cx="611.3" cy="204.5" r="4.5"/><circle cx="611.3" cy="324.0" r="4.5"/><circle cx="623.3" cy="250.9" r="4.5"/><circle cx="623.3" cy="295.2" r="4.5"/><circle cx="623.3" cy="227.6" r="4.5"/><circle cx="623.3" cy="236.3" r="4.5"/><circle cx="623.3" cy="263.9" r="4.5"/><circle cx="623.3" cy="334.7" r="4.5"/><circle cx="623.3" cy="347.9" r="4.5"/><circle cx="623.3" cy="235.7" r="4.5"/><circle cx="623.3" cy="216.8" r="4.5"/><circle cx="623.3" cy="316.0" r="4.5"/><circle cx="635.3" cy="294.0" r="4.5"/><circle cx="635.3" cy="287.0" r="4.5"/><circle cx="635.3" cy="239.2" r="4.5"/><circle cx="635.3" cy="310.0" r="4.5"/><circle cx="635.3" cy="313.3" r="4.5"/><circle cx="635.3" cy="339.8" r="4.5"/><circle cx="635.3" cy="270.8" r="4.5"/><circle cx="635.3" cy="242.2" r="4.5"/><circle cx="635.3" cy="175.5" r="4.5"/><circle cx="635.3" cy="190.8" r="4.5"/><circle cx="647.3" cy="311.3" r="4.5"/><circle cx="647.3" cy="283.6" r="4.5"/><circle cx="647.3" cy="266.0" r="4.5"/><circle cx="647.3" cy="333.5" r="4.5"/><circle cx="647.3" cy="247.5" r="4.5"/><circle cx="647.3" cy="336.6" r="4.5"/><circle cx="647.3" cy="267.1" r="4.5"/><circle cx="647.3" cy="240.0" r="4.5"/><circle cx="647.3" cy="287.0" r="4.5"/><circle cx="647.3" cy="197.5" r="4.5"/><circle cx="659.4" cy="255.9" r="4.5"/><circle cx="659.4" cy="276.2" r="4.5"/><circle cx="659.4" cy="221.1" r="4.5"/><circle cx="659.4" cy="341.8" r="4.5"/><circle cx="659.4" cy="281.0" r="4.5"/><circle cx="659.4" cy="299.9" r="4.5"/><circle cx="659.4" cy="337.1" r="4.5"/><circle cx="659.4" cy="249.8" r="4.5"/><circle cx="659.4" cy="236.0" r="4.5"/><circle cx="659.4" cy="163.8" r="4.5"/><circle cx="671.4" cy="258.9" r="4.5"/><circle cx="671.4" cy="346.6" r="4.5"/><circle cx="671.4" cy="376.2" r="4.5"/><circle cx="671.4" cy="302.3" r="4.5"/><circle cx="671.4" cy="261.2" r="4.5"/><circle cx="671.4" cy="252.8" r="4.5"/><circle cx="671.4" cy="310.7" r="4.5"/><circle cx="671.4" cy="342.5" r="4.5"/><circle cx="671.4" cy="315.2" r="4.5"/><circle cx="671.4" cy="213.8" r="4.5"/><circle cx="683.4" cy="274.2" r="4.5"/><circle cx="683.4" cy="210.5" r="4.5"/><circle cx="683.4" cy="287.4" r="4.5"/><circle cx="683.4" cy="221.0" r="4.5"/><circle cx="683.4" cy="253.0" r="4.5"/><circle cx="683.4" cy="274.2" r="4.5"/><circle cx="683.4" cy="301.4" r="4.5"/><circle cx="683.4" cy="258.2" r="4.5"/><circle cx="683.4" cy="165.0" r="4.5"/><circle cx="683.4" cy="180.0" r="4.5"/><circle cx="695.4" cy="316.4" r="4.5"/><circle cx="695.4" cy="261.1" r="4.5"/><circle cx="695.4" cy="289.4" r="4.5"/><circle cx="695.4" cy="245.8" r="4.5"/><circle cx="695.4" cy="216.2" r="4.5"/><circle cx="695.4" cy="322.8" r="4.5"/><circle cx="695.4" cy="243.1" r="4.5"/><circle cx="695.4" cy="178.0" r="4.5"/><circle cx="695.4" cy="201.8" r="4.5"/><circle cx="695.4" cy="325.5" r="4.5"/><circle cx="707.5" cy="299.6" r="4.5"/><circle cx="707.5" cy="342.1" r="4.5"/><circle cx="707.5" cy="321.6" r="4.5"/><circle cx="707.5" cy="304.3" r="4.5"/><circle cx="707.5" cy="246.5" r="4.5"/><circle cx="707.5" cy="327.1" r="4.5"/><circle cx="707.5" cy="222.5" r="4.5"/><circle cx="707.5" cy="183.8" r="4.5"/><circle cx="707.5" cy="195.0" r="4.5"/><circle cx="707.5" cy="327.5" r="4.5"/><circle cx="719.5" cy="198.3" r="4.5"/><circle cx="719.5" cy="295.8" r="4.5"/><circle cx="719.5" cy="217.7" r="4.5"/><circle cx="719.5" cy="328.4" r="4.5"/><circle cx="719.5" cy="304.4" r="4.5"/><circle cx="719.5" cy="282.1" r="4.5"/><circle cx="719.5" cy="200.7" r="4.5"/><circle cx="719.5" cy="170.7" r="4.5"/><circle cx="719.5" cy="133.8" r="4.5"/><circle cx="719.5" cy="155.8" r="4.5"/><circle cx="731.5" cy="257.5" r="4.5"/><circle cx="731.5" cy="222.0" r="4.5"/><circle cx="731.5" cy="233.6" r="4.5"/><circle cx="731.5" cy="216.9" r="4.5"/><circle cx="731.5" cy="309.7" r="4.5"/><circle cx="731.5" cy="206.7" r="4.5"/><circle cx="731.5" cy="218.5" r="4.5"/><circle cx="731.5" cy="305.0" r="4.5"/><circle cx="731.5" cy="195.0" r="4.5"/><circle cx="731.5" cy="310.0" r="4.5"/><circle cx="743.5" cy="304.3" r="4.5"/><circle cx="743.5" cy="223.0" r="4.5"/><circle cx="743.5" cy="324.8" r="4.5"/><circle cx="743.5" cy="228.0" r="4.5"/><circle cx="743.5" cy="236.6" r="4.5"/><circle cx="743.5" cy="234.0" r="4.5"/><circle cx="743.5" cy="215.4" r="4.5"/><circle cx="743.5" cy="275.5" r="4.5"/><circle cx="743.5" cy="312.2" r="4.5"/><circle cx="743.5" cy="208.8" r="4.5"/><circle cx="755.6" cy="282.9" r="4.5"/><circle cx="755.6" cy="249.2" r="4.5"/><circle cx="755.6" cy="305.3" r="4.5"/><circle cx="755.6" cy="332.5" r="4.5"/><circle cx="755.6" cy="295.9" r="4.5"/><circle cx="755.6" cy="238.0" r="4.5"/><circle cx="755.6" cy="272.4" r="4.5"/><circle cx="755.6" cy="175.0" r="4.5"/><circle cx="755.6" cy="178.8" r="4.5"/><circle cx="755.6" cy="190.0" r="4.5"/><circle cx="767.6" cy="233.7" r="4.5"/><circle cx="767.6" cy="196.1" r="4.5"/><circle cx="767.6" cy="207.0" r="4.5"/><circle cx="767.6" cy="330.3" r="4.5"/><circle cx="767.6" cy="357.4" r="4.5"/><circle cx="767.6" cy="327.4" r="4.5"/><circle cx="767.6" cy="368.7" r="4.5"/><circle cx="767.6" cy="131.2" r="4.5"/><circle cx="767.6" cy="173.0" r="4.5"/><circle cx="767.6" cy="315.0" r="4.5"/><circle cx="779.6" cy="314.9" r="4.5"/><circle cx="779.6" cy="288.2" r="4.5"/><circle cx="779.6" cy="219.7" r="4.5"/><circle cx="779.6" cy="266.0" r="4.5"/><circle cx="779.6" cy="255.0" r="4.5"/><circle cx="779.6" cy="226.6" r="4.5"/><circle cx="779.6" cy="269.7" r="4.5"/><circle cx="779.6" cy="265.6" r="4.5"/><circle cx="779.6" cy="173.0" r="4.5"/><circle cx="779.6" cy="183.8" r="4.5"/><circle cx="791.6" cy="218.3" r="4.5"/><circle cx="791.6" cy="312.3" r="4.5"/><circle cx="791.6" cy="273.1" r="4.5"/><circle cx="791.6" cy="270.0" r="4.5"/><circle cx="791.6" cy="275.5" r="4.5"/><circle cx="791.6" cy="160.0" r="4.5"/><circle cx="791.6" cy="175.8" r="4.5"/><circle cx="791.6" cy="320.0" r="4.5"/><circle cx="791.6" cy="362.5" r="4.5"/><circle cx="791.6" cy="382.5" r="4.5"/><circle cx="803.7" cy="271.4" r="4.5"/><circle cx="803.7" cy="315.8" r="4.5"/><circle cx="803.7" cy="335.6" r="4.5"/><circle cx="803.7" cy="236.3" r="4.5"/><circle cx="803.7" cy="239.0" r="4.5"/><circle cx="803.7" cy="178.3" r="4.5"/><circle cx="803.7" cy="250.2" r="4.5"/><circle cx="803.7" cy="246.8" r="4.5"/><circle cx="803.7" cy="118.8" r="4.5"/><circle cx="803.7" cy="158.0" r="4.5"/><circle cx="815.7" cy="299.5" r="4.5"/><circle cx="815.7" cy="328.9" r="4.5"/><circle cx="815.7" cy="259.9" r="4.5"/><circle cx="815.7" cy="205.3" r="4.5"/><circle cx="815.7" cy="251.3" r="4.5"/><circle cx="815.7" cy="325.5" r="4.5"/><circle cx="815.7" cy="275.8" r="4.5"/><circle cx="815.7" cy="268.9" r="4.5"/><circle cx="815.7" cy="55.8" r="4.5"/><circle cx="815.7" cy="141.8" r="4.5"/><circle cx="827.7" cy="312.5" r="4.5"/><circle cx="827.7" cy="222.2" r="4.5"/><circle cx="827.7" cy="191.2" r="4.5"/><circle cx="827.7" cy="186.3" r="4.5"/><circle cx="827.7" cy="217.4" r="4.5"/><circle cx="827.7" cy="233.1" r="4.5"/><circle cx="827.7" cy="274.0" r="4.5"/><circle cx="827.7" cy="132.5" r="4.5"/><circle cx="827.7" cy="163.8" r="4.5"/><circle cx="827.7" cy="297.0" r="4.5"/><circle cx="839.7" cy="298.0" r="4.5"/><circle cx="839.7" cy="273.0" r="4.5"/><circle cx="839.7" cy="253.2" r="4.5"/><circle cx="839.7" cy="244.2" r="4.5"/><circle cx="839.7" cy="229.4" r="4.5"/><circle cx="839.7" cy="250.6" r="4.5"/><circle cx="839.7" cy="294.7" r="4.5"/><circle cx="839.7" cy="128.8" r="4.5"/><circle cx="839.7" cy="298.8" r="4.5"/><circle cx="839.7" cy="299.5" r="4.5"/><circle cx="851.8" cy="314.0" r="4.5"/><circle cx="851.8" cy="261.2" r="4.5"/><circle cx="851.8" cy="203.6" r="4.5"/><circle cx="851.8" cy="232.4" r="4.5"/><circle cx="851.8" cy="245.2" r="4.5"/><circle cx="851.8" cy="231.6" r="4.5"/><circle cx="851.8" cy="173.8" r="4.5"/><circle cx="851.8" cy="174.5" r="4.5"/><circle cx="851.8" cy="303.8" r="4.5"/><circle cx="851.8" cy="310.0" r="4.5"/><circle cx="863.8" cy="206.6" r="4.5"/><circle cx="863.8" cy="226.3" r="4.5"/><circle cx="863.8" cy="284.1" r="4.5"/><circle cx="863.8" cy="197.5" r="4.5"/><circle cx="863.8" cy="187.3" r="4.5"/><circle cx="863.8" cy="273.6" r="4.5"/><circle cx="863.8" cy="220.1" r="4.5"/><circle cx="863.8" cy="281.3" r="4.5"/><circle cx="863.8" cy="157.0" r="4.5"/><circle cx="863.8" cy="298.8" r="4.5"/><circle cx="875.8" cy="179.4" r="4.5"/><circle cx="875.8" cy="289.8" r="4.5"/><circle cx="875.8" cy="204.3" r="4.5"/><circle cx="875.8" cy="234.1" r="4.5"/><circle cx="875.8" cy="255.4" r="4.5"/><circle cx="875.8" cy="189.8" r="4.5"/><circle cx="875.8" cy="174.2" r="4.5"/><circle cx="875.8" cy="155.0" r="4.5"/><circle cx="875.8" cy="158.0" r="4.5"/><circle cx="875.8" cy="372.5" r="4.5"/><circle cx="887.8" cy="289.6" r="4.5"/><circle cx="887.8" cy="232.5" r="4.5"/><circle cx="887.8" cy="289.5" r="4.5"/><circle cx="887.8" cy="262.5" r="4.5"/><circle cx="887.8" cy="265.9" r="4.5"/><circle cx="887.8" cy="329.0" r="4.5"/><circle cx="887.8" cy="241.6" r="4.5"/><circle cx="887.8" cy="205.8" r="4.5"/><circle cx="887.8" cy="362.5" r="4.5"/><circle cx="887.8" cy="371.2" r="4.5"/><circle cx="899.9" cy="216.2" r="4.5"/><circle cx="899.9" cy="229.0" r="4.5"/><circle cx="899.9" cy="292.6" r="4.5"/><circle cx="899.9" cy="310.7" r="4.5"/><circle cx="899.9" cy="200.2" r="4.5"/><circle cx="899.9" cy="253.2" r="4.5"/><circle cx="899.9" cy="158.0" r="4.5"/><circle cx="899.9" cy="178.8" r="4.5"/><circle cx="899.9" cy="311.2" r="4.5"/><circle cx="899.9" cy="362.5" r="4.5"/><circle cx="911.9" cy="243.2" r="4.5"/><circle cx="911.9" cy="223.4" r="4.5"/><circle cx="911.9" cy="225.5" r="4.5"/><circle cx="911.9" cy="198.2" r="4.5"/><circle cx="911.9" cy="250.1" r="4.5"/><circle cx="911.9" cy="277.6" r="4.5"/><circle cx="911.9" cy="217.8" r="4.5"/><circle cx="911.9" cy="88.0" r="4.5"/><circle cx="911.9" cy="146.8" r="4.5"/><circle cx="911.9" cy="304.5" r="4.5"/><circle cx="923.9" cy="225.1" r="4.5"/><circle cx="923.9" cy="260.2" r="4.5"/><circle cx="923.9" cy="203.3" r="4.5"/><circle cx="923.9" cy="214.5" r="4.5"/><circle cx="923.9" cy="198.0" r="4.5"/><circle cx="923.9" cy="243.3" r="4.5"/><circle cx="923.9" cy="258.4" r="4.5"/><circle cx="923.9" cy="304.2" r="4.5"/><circle cx="923.9" cy="80.0" r="4.5"/><circle cx="923.9" cy="325.5" r="4.5"/><circle cx="935.9" cy="180.9" r="4.5"/><circle cx="935.9" cy="302.0" r="4.5"/><circle cx="935.9" cy="170.9" r="4.5"/><circle cx="935.9" cy="282.4" r="4.5"/><circle cx="935.9" cy="239.4" r="4.5"/><circle cx="935.9" cy="302.9" r="4.5"/><circle cx="935.9" cy="204.4" r="4.5"/><circle cx="935.9" cy="147.0" r="4.5"/><circle cx="935.9" cy="153.8" r="4.5"/><circle cx="935.9" cy="303.8" r="4.5"/><circle cx="947.9" cy="291.0" r="4.5"/><circle cx="947.9" cy="232.3" r="4.5"/><circle cx="947.9" cy="233.7" r="4.5"/><circle cx="947.9" cy="222.8" r="4.5"/><circle cx="947.9" cy="253.8" r="4.5"/><circle cx="947.9" cy="299.4" r="4.5"/><circle cx="947.9" cy="209.5" r="4.5"/><circle cx="947.9" cy="312.5" r="4.5"/><circle cx="947.9" cy="327.5" r="4.5"/><circle cx="947.9" cy="392.5" r="4.5"/><circle cx="960.0" cy="75.8" r="4.5"/><circle cx="960.0" cy="100.0" r="4.5"/><circle cx="960.0" cy="148.8" r="4.5"/><circle cx="960.0" cy="171.0" r="4.5"/><circle cx="960.0" cy="197.5" r="4.5"/><circle cx="960.0" cy="207.5" r="4.5"/><circle cx="960.0" cy="217.5" r="4.5"/><circle cx="960.0" cy="223.8" r="4.5"/><circle cx="960.0" cy="230.0" r="4.5"/><circle cx="960.0" cy="251.2" r="4.5"/><circle cx="972.0" cy="61.8" r="4.5"/><circle cx="972.0" cy="131.0" r="4.5"/><circle cx="972.0" cy="135.0" r="4.5"/><circle cx="972.0" cy="163.8" r="4.5"/><circle cx="972.0" cy="181.0" r="4.5"/><circle cx="972.0" cy="198.8" r="4.5"/><circle cx="972.0" cy="230.0" r="4.5"/><circle cx="972.0" cy="241.0" r="4.5"/><circle cx="972.0" cy="247.5" r="4.5"/><circle cx="972.0" cy="283.8" r="4.5"/><circle cx="984.0" cy="89.2" r="4.5"/><circle cx="984.0" cy="161.8" r="4.5"/><circle cx="984.0" cy="175.0" r="4.5"/><circle cx="984.0" cy="181.0" r="4.5"/><circle cx="984.0" cy="185.0" r="4.5"/><circle cx="984.0" cy="192.5" r="4.5"/><circle cx="984.0" cy="203.8" r="4.5"/><circle cx="984.0" cy="260.0" r="4.5"/><circle cx="984.0" cy="267.5" r="4.5"/><circle cx="984.0" cy="271.0" r="4.5"/><circle cx="996.0" cy="53.2" r="4.5"/><circle cx="996.0" cy="55.8" r="4.5"/><circle cx="996.0" cy="135.0" r="4.5"/><circle cx="996.0" cy="162.5" r="4.5"/><circle cx="996.0" cy="226.0" r="4.5"/><circle cx="996.0" cy="250.0" r="4.5"/><circle cx="996.0" cy="250.5" r="4.5"/><circle cx="996.0" cy="267.5" r="4.5"/><circle cx="996.0" cy="292.5" r="4.5"/><circle cx="996.0" cy="310.0" r="4.5"/><circle cx="1008.1" cy="113.8" r="4.5"/><circle cx="1008.1" cy="115.5" r="4.5"/><circle cx="1008.1" cy="167.0" r="4.5"/><circle cx="1008.1" cy="170.0" r="4.5"/><circle cx="1008.1" cy="257.5" r="4.5"/><circle cx="1008.1" cy="262.5" r="4.5"/><circle cx="1008.1" cy="266.0" r="4.5"/><circle cx="1008.1" cy="292.5" r="4.5"/><circle cx="1008.1" cy="311.2" r="4.5"/><circle cx="1008.1" cy="367.5" r="4.5"/><circle cx="1020.1" cy="146.2" r="4.5"/><circle cx="1020.1" cy="157.5" r="4.5"/><circle cx="1020.1" cy="160.0" r="4.5"/><circle cx="1020.1" cy="210.0" r="4.5"/><circle cx="1020.1" cy="227.5" r="4.5"/><circle cx="1020.1" cy="238.8" r="4.5"/><circle cx="1020.1" cy="245.0" r="4.5"/><circle cx="1020.1" cy="256.2" r="4.5"/><circle cx="1020.1" cy="263.8" r="4.5"/><circle cx="1020.1" cy="277.5" r="4.5"/><circle cx="1032.1" cy="118.8" r="4.5"/><circle cx="1032.1" cy="126.2" r="4.5"/><circle cx="1032.1" cy="157.5" r="4.5"/><circle cx="1032.1" cy="170.0" r="4.5"/><circle cx="1032.1" cy="190.0" r="4.5"/><circle cx="1032.1" cy="200.0" r="4.5"/><circle cx="1032.1" cy="210.0" r="4.5"/><circle cx="1032.1" cy="236.2" r="4.5"/><circle cx="1032.1" cy="252.5" r="4.5"/><circle cx="1032.1" cy="364.2" r="4.5"/><circle cx="1044.1" cy="115.8" r="4.5"/><circle cx="1044.1" cy="127.5" r="4.5"/><circle cx="1044.1" cy="157.5" r="4.5"/><circle cx="1044.1" cy="170.5" r="4.5"/><circle cx="1044.1" cy="180.0" r="4.5"/><circle cx="1044.1" cy="190.0" r="4.5"/><circle cx="1044.1" cy="193.0" r="4.5"/><circle cx="1044.1" cy="210.8" r="4.5"/><circle cx="1044.1" cy="262.0" r="4.5"/><circle cx="1044.1" cy="297.0" r="4.5"/></g>
<path d="M166.4,357.5L178.4,357.2L190.4,356.9L202.5,356.6L214.5,356.4L226.5,356.1L238.5,355.8L250.6,355.5L262.6,355.2L274.6,354.9L286.6,354.6L298.7,354.4L310.7,354.1L322.7,353.8L334.7,353.6L346.8,353.3L358.8,353.0L370.8,352.8L382.8,352.5L394.8,352.3L406.9,352.0L418.9,351.8L430.9,351.5L442.9,351.2L455.0,351.0L467.0,350.7L479.0,350.5L491.0,350.4L503.1,350.3L515.1,350.2L527.1,350.2L539.1,350.1L551.2,350.0L563.2,349.9L575.2,348.6L587.2,345.8L599.3,347.7L611.3,348.4L623.3,350.0L635.3,349.5L647.3,348.1L659.4,347.3L671.4,341.7L683.4,348.6L695.4,347.1L707.5,346.0L719.5,345.9L731.5,345.1L743.5,345.0L755.6,344.9L767.6,342.6L779.6,343.0L791.6,341.4L803.7,343.9L815.7,344.5L827.7,342.7L839.7,343.1L851.8,343.1L863.8,334.2L875.8,339.1L887.8,337.8L899.9,336.5L911.9,335.7L923.9,338.1L935.9,336.3L947.9,340.4L960.0,341.9L972.0,341.8L984.0,339.7L996.0,340.1L1008.1,342.0L1020.1,338.2L1032.1,334.9L1044.1,333.8L1044.1,350.2L1032.1,351.1L1020.1,354.3L1008.1,358.0L996.0,355.9L984.0,355.3L972.0,357.2L960.0,357.1L947.9,355.6L935.9,351.2L923.9,352.9L911.9,350.3L899.9,351.0L887.8,352.2L875.8,353.4L863.8,348.3L851.8,356.9L839.7,356.9L827.7,356.3L815.7,358.0L803.7,357.1L791.6,354.6L779.6,356.0L767.6,355.4L755.6,357.6L743.5,357.5L731.5,357.4L719.5,358.1L707.5,358.0L695.4,358.9L683.4,360.4L671.4,353.3L659.4,358.7L647.3,359.4L635.3,360.5L623.3,361.0L611.3,359.1L599.3,358.3L587.2,356.2L575.2,358.9L563.2,360.1L551.2,360.0L539.1,359.9L527.1,359.8L515.1,359.8L503.1,359.7L491.0,359.6L479.0,359.5L467.0,359.6L455.0,359.7L442.9,359.8L430.9,359.9L418.9,360.0L406.9,360.1L394.8,360.2L382.8,360.3L370.8,360.4L358.8,360.5L346.8,360.6L334.7,360.7L322.7,360.8L310.7,360.9L298.7,361.1L286.6,361.2L274.6,361.3L262.6,361.5L250.6,361.6L238.5,361.7L226.5,361.8L214.5,362.0L202.5,362.1L190.4,362.2L178.4,362.4L166.4,362.5Z" fill="#F8766D" fill-opacity="0.40"/>
<path d="M166.4,314.8L178.4,329.4L190.4,311.6L202.5,305.0L214.5,304.2L226.5,325.6L238.5,312.5L250.6,307.8L262.6,316.1L274.6,305.2L286.6,308.0L298.7,324.1L310.7,323.1L322.7,331.3L334.7,313.6L346.8,358.6L358.8,324.8L370.8,338.1L382.8,335.2L394.8,326.9L406.9,318.2L418.9,318.2L430.9,338.9L442.9,367.5L455.0,335.1L467.0,357.9L479.0,356.0L491.0,328.5L503.1,359.5L515.1,338.9L527.1,311.6L539.1,361.0L551.2,337.5L563.2,381.5L575.2,352.8L587.2,342.5L599.3,356.0L611.3,366.2L623.3,363.8L635.3,292.8L647.3,322.5L659.4,355.0L671.4,312.2L683.4,342.2L695.4,340.0L707.5,354.0L719.5,353.8L731.5,353.8L743.5,388.8L755.6,382.5L767.6,376.2L779.6,335.0L791.6,399.5L803.7,388.8L815.7,349.5L827.7,376.5L839.7,400.0L851.8,365.5L863.8,391.5L875.8,359.5L887.8,404.5L899.9,375.0L911.9,372.0L923.9,439.0L935.9,380.5L947.9,389.5L960.0,467.5L972.0,421.0L984.0,398.5L996.0,349.0L1008.1,375.0L1020.1,390.5L1032.1,422.5L1044.1,393.0L1044.1,619.0L1032.1,680.0L1020.1,507.0L1008.1,660.0L996.0,526.0L984.0,602.5L972.0,579.0L960.0,650.0L947.9,568.0L935.9,529.5L923.9,526.0L911.9,523.0L899.9,530.0L887.8,588.0L875.8,558.0L863.8,558.5L851.8,522.0L839.7,532.5L827.7,506.0L815.7,515.5L803.7,533.8L791.6,558.0L779.6,560.0L767.6,498.8L755.6,527.5L743.5,553.8L731.5,506.2L719.5,508.8L707.5,500.0L695.4,462.5L683.4,478.8L671.4,478.8L659.4,450.0L647.3,445.0L635.3,486.2L623.3,468.8L611.3,526.2L599.3,490.0L587.2,457.5L575.2,446.2L563.2,447.5L551.2,475.0L539.1,460.0L527.1,430.0L515.1,463.8L503.1,432.5L491.0,466.2L479.0,432.5L467.0,428.8L455.0,445.5L442.9,445.5L430.9,420.6L418.9,385.0L406.9,396.2L394.8,401.9L382.8,420.6L370.8,401.9L358.8,404.7L346.8,423.4L334.7,423.4L322.7,401.9L310.7,381.2L298.7,380.3L286.6,399.0L274.6,378.0L262.6,399.7L250.6,369.7L238.5,380.0L226.5,380.0L214.5,365.0L202.5,365.0L190.4,364.0L178.4,361.2L166.4,341.0Z" fill="#00BA38" fill-opacity="0.40"/>
<path d="M166.4,315.5L178.4,305.0L190.4,298.4L202.5,299.4L214.5,299.8L226.5,298.4L238.5,312.5L250.6,296.6L262.6,287.8L274.6,295.6L286.6,300.3L298.7,305.0L310.7,275.9L322.7,289.0L334.7,271.6L346.8,283.4L358.8,292.8L370.8,290.0L382.8,267.5L394.8,262.8L406.9,255.0L418.9,261.2L430.9,257.5L442.9,267.0L455.0,266.2L467.0,262.5L479.0,257.5L491.0,258.8L503.1,237.5L515.1,247.5L527.1,223.8L539.1,235.0L551.2,252.5L563.2,241.2L575.2,220.0L587.2,255.0L599.3,203.8L611.3,237.5L623.3,225.0L635.3,212.5L647.3,233.8L659.4,212.5L671.4,247.5L683.4,196.2L695.4,207.5L707.5,217.5L719.5,160.0L731.5,202.5L743.5,212.5L755.6,196.2L767.6,178.8L779.6,201.2L791.6,201.2L803.7,167.5L815.7,155.5L827.7,165.0L839.7,205.0L851.8,192.5L863.8,185.0L875.8,152.5L887.8,230.0L899.9,185.0L911.9,155.0L923.9,163.8L935.9,163.8L947.9,220.0L960.0,126.2L972.0,121.2L984.0,142.5L996.0,102.5L1008.1,142.5L1020.1,166.2L1032.1,132.5L1044.1,135.0L1044.1,250.0L1032.1,277.5L1020.1,271.2L1008.1,321.5L996.0,286.5L984.0,255.0L972.0,248.8L960.0,243.8L947.9,335.0L935.9,293.8L923.9,298.8L911.9,280.0L899.9,317.5L887.8,340.0L875.8,290.0L863.8,281.5L851.8,297.5L839.7,309.0L827.7,281.0L815.7,327.0L803.7,302.5L791.6,348.8L779.6,291.2L767.6,349.2L755.6,307.8L743.5,300.0L731.5,292.5L719.5,297.5L707.5,336.5L695.4,312.5L683.4,288.8L671.4,348.5L659.4,320.0L647.3,320.2L635.3,320.0L623.3,320.0L611.3,318.5L599.3,348.8L587.2,339.0L575.2,291.0L563.2,328.8L551.2,316.5L539.1,311.0L527.1,340.2L515.1,322.5L503.1,308.5L491.0,311.2L479.0,327.5L467.0,325.0L455.0,329.8L442.9,329.0L430.9,322.5L418.9,318.8L406.9,321.0L394.8,321.0L382.8,318.1L370.8,330.5L358.8,336.7L346.8,336.0L334.7,339.2L322.7,332.2L310.7,319.9L298.7,348.2L286.6,336.7L274.6,339.9L262.6,334.2L250.6,335.9L238.5,356.7L226.5,340.8L214.5,345.9L202.5,339.8L190.4,332.2L178.4,334.2L166.4,339.5Z" fill="#619CFF" fill-opacity="0.40"/>
<path d="M166.4,360.0L178.4,359.8L190.4,359.6L202.5,359.4L214.5,359.2L226.5,359.0L238.5,358.8L250.6,358.5L262.6,358.3L274.6,358.1L286.6,357.9L298.7,357.7L310.7,357.5L322.7,357.3L334.7,357.1L346.8,357.0L358.8,356.8L370.8,356.6L382.8,356.4L394.8,356.2L406.9,356.1L418.9,355.9L430.9,355.7L442.9,355.5L455.0,355.4L467.0,355.2L479.0,355.0L491.0,355.0L503.1,355.0L515.1,355.0L527.1,355.0L539.1,355.0L551.2,355.0L563.2,355.0L575.2,353.8L587.2,351.0L599.3,353.0L611.3,353.8L623.3,355.5L635.3,355.0L647.3,353.8L659.4,353.0L671.4,347.5L683.4,354.5L695.4,353.0L707.5,352.0L719.5,352.0L731.5,351.2L743.5,351.2L755.6,351.2L767.6,349.0L779.6,349.5L791.6,348.0L803.7,350.5L815.7,351.2L827.7,349.5L839.7,350.0L851.8,350.0L863.8,341.2L875.8,346.2L887.8,345.0L899.9,343.8L911.9,343.0L923.9,345.5L935.9,343.8L947.9,348.0L960.0,349.5L972.0,349.5L984.0,347.5L996.0,348.0L1008.1,350.0L1020.1,346.2L1032.1,343.0L1044.1,342.0" fill="none" stroke="#F8766D" stroke-width="1.9" stroke-linejoin="round"/>
<path d="M166.4,327.9L178.4,345.3L190.4,337.8L202.5,335.0L214.5,334.6L226.5,352.8L238.5,346.2L250.6,338.8L262.6,357.9L274.6,341.6L286.6,353.5L298.7,352.2L310.7,352.2L322.7,366.6L334.7,368.5L346.8,391.0L358.8,364.8L370.8,370.0L382.8,377.9L394.8,364.4L406.9,357.2L418.9,351.6L430.9,379.8L442.9,406.5L455.0,390.3L467.0,393.3L479.0,394.2L491.0,397.4L503.1,396.0L515.1,401.3L527.1,370.8L539.1,410.5L551.2,406.2L563.2,414.5L575.2,399.5L587.2,400.0L599.3,423.0L611.3,446.2L623.3,416.2L635.3,389.5L647.3,383.8L659.4,402.5L671.4,395.5L683.4,410.5L695.4,401.2L707.5,427.0L719.5,431.2L731.5,430.0L743.5,471.2L755.6,455.0L767.6,437.5L779.6,447.5L791.6,478.8L803.7,461.2L815.7,432.5L827.7,441.2L839.7,466.2L851.8,443.8L863.8,475.0L875.8,458.8L887.8,496.2L899.9,452.5L911.9,447.5L923.9,482.5L935.9,455.0L947.9,478.8L960.0,558.8L972.0,500.0L984.0,500.5L996.0,437.5L1008.1,517.5L1020.1,448.8L1032.1,551.2L1044.1,506.0" fill="none" stroke="#00BA38" stroke-width="1.9" stroke-linejoin="round"/>
<path d="M166.4,327.5L178.4,319.6L190.4,315.3L202.5,319.6L214.5,322.8L226.5,319.6L238.5,334.6L250.6,316.2L262.6,311.0L274.6,317.8L286.6,318.5L298.7,326.6L310.7,297.9L322.7,310.6L334.7,305.4L346.8,309.7L358.8,314.8L370.8,310.2L382.8,292.8L394.8,291.9L406.9,288.0L418.9,290.0L430.9,290.0L442.9,298.0L455.0,298.0L467.0,293.8L479.0,292.5L491.0,285.0L503.1,273.0L515.1,285.0L527.1,282.0L539.1,273.0L551.2,284.5L563.2,285.0L575.2,255.5L587.2,297.0L599.3,276.2L611.3,278.0L623.3,272.5L635.3,266.2L647.3,277.0L659.4,266.2L671.4,298.0L683.4,242.5L695.4,260.0L707.5,277.0L719.5,228.8L731.5,247.5L743.5,256.2L755.6,252.0L767.6,264.0L779.6,246.2L791.6,275.0L803.7,235.0L815.7,241.2L827.7,223.0L839.7,257.0L851.8,245.0L863.8,233.2L875.8,221.2L887.8,285.0L899.9,251.2L911.9,217.5L923.9,231.2L935.9,228.8L947.9,277.5L960.0,185.0L972.0,185.0L984.0,198.8L996.0,194.5L1008.1,232.0L1020.1,218.8L1032.1,205.0L1044.1,192.5" fill="none" stroke="#619CFF" stroke-width="1.9" stroke-linejoin="round"/>
</g>
<g stroke="#333" stroke-width="2" shape-rendering="crispEdges">
<line x1="115" x2="123" y1="17" y2="17"/>
<line x1="115" x2="123" y1="189" y2="189"/>
<line x1="115" x2="123" y1="361" y2="361"/>
<line x1="115" x2="123" y1="532" y2="532"/>
<line x1="115" x2="123" y1="704" y2="704"/>
<line x1="287" x2="287" y1="873" y2="881"/>
<line x1="527" x2="527" y1="873" y2="881"/>
<line x1="768" x2="768" y1="873" y2="881"/>
<line x1="1008" x2="1008" y1="873" y2="881"/>
</g>
<g font-family="'Liberation Sans',Arial,sans-serif" font-size="23.47" fill="#4D4D4D">
<text x="109.3" y="27.2" text-anchor="end">5000</text>
<text x="109.3" y="199.2" text-anchor="end">2500</text>
<text x="109.3" y="371.2" text-anchor="end">0</text>
<text x="109.3" y="542.2" text-anchor="end">-2500</text>
<text x="109.3" y="714.2" text-anchor="end">-5000</text>
<text x="287" y="906" text-anchor="middle">1960</text>
<text x="527" y="906" text-anchor="middle">1980</text>
<text x="768" y="906" text-anchor="middle">2000</text>
<text x="1008" y="906" text-anchor="middle">2020</text>
</g>
<g font-family="'Liberation Sans',Arial,sans-serif" font-size="29.33" fill="#000">
<text x="604.8" y="939.7" text-anchor="middle">Year</text>
<text transform="translate(37.3,444.6) rotate(-90)" text-anchor="middle" letter-spacing="-0.15">Response_updated</text>
<text x="1132" y="378.7">Treatment</text>
</g>
<rect x="1132" y="396" width="46" height="138.3" fill="#EBEBEB"/>
<rect x="1133" y="398.0" width="43" height="42" fill="#F8766D" fill-opacity="0.40" shape-rendering="crispEdges"/>
<g class="p" fill="#F8766D" stroke="#F8766D"><circle cx="1155" cy="419" r="4.5"/></g>
<line x1="1136" x2="1173" y1="419" y2="419" stroke="#F8766D" stroke-width="2" shape-rendering="crispEdges"/>
<rect x="1133" y="444.0" width="43" height="42" fill="#00BA38" fill-opacity="0.40" shape-rendering="crispEdges"/>
<g class="p" fill="#00BA38" stroke="#00BA38"><circle cx="1155" cy="465" r="4.5"/></g>
<line x1="1136" x2="1173" y1="465" y2="465" stroke="#00BA38" stroke-width="2" shape-rendering="crispEdges"/>
<rect x="1133" y="490.0" width="43" height="42" fill="#619CFF" fill-opacity="0.40" shape-rendering="crispEdges"/>
<g class="p" fill="#619CFF" stroke="#619CFF"><circle cx="1155" cy="511" r="4.5"/></g>
<line x1="1136" x2="1173" y1="511" y2="511" stroke="#619CFF" stroke-width="2" shape-rendering="crispEdges"/>
<g font-family="'Liberation Sans',Arial,sans-serif" font-size="23.2" fill="#000">
<text x="1192" y="428.3" letter-spacing="-0.07">Control</text>
<text x="1192" y="474.3" letter-spacing="-0.23">Treatment 1</text>
<text x="1192" y="520.3" letter-spacing="-0.23">Treatment 2</text>
</g>
</svg></body></html>
